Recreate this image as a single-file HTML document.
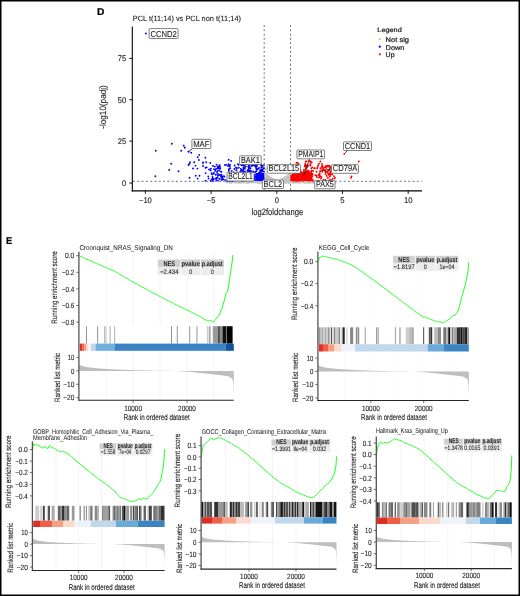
<!DOCTYPE html>
<html><head><meta charset="utf-8"><style>
html,body{margin:0;padding:0;background:#fff;}
body{width:520px;height:596px;overflow:hidden;}
svg{display:block;font-family:"Liberation Sans", sans-serif;will-change:transform;text-rendering:geometricPrecision;}
</style></head><body>
<svg width="520" height="596" viewBox="0 0 520 596" fill="#1a1a1a">
<rect x="0" y="0" width="520" height="596" fill="#fff"/>
<text x="97.00" y="15.00" font-size="10" stroke="#000" stroke-width="0.22" font-weight="bold" fill="#000" textLength="7.40" lengthAdjust="spacingAndGlyphs">D</text>
<text x="132.70" y="21.40" font-size="7.6" stroke="#1a1a1a" stroke-width="0.1" textLength="108.30" lengthAdjust="spacingAndGlyphs">PCL t(11;14) vs PCL non t(11;14)</text>
<g stroke="#333" stroke-width="0.7" stroke-dasharray="2 2.3">
<line x1="264.20" y1="25.00" x2="264.20" y2="191.00" stroke="#333" stroke-width="0.7"/>
<line x1="290.50" y1="25.00" x2="290.50" y2="191.00" stroke="#333" stroke-width="0.7"/>
<line x1="133.00" y1="181.30" x2="422.00" y2="181.30" stroke="#333" stroke-width="0.7"/>
</g>
<g>
<path d="M280.7 182.1h0M285.2 182.7h0M283.7 182.6h0M265.3 177.9h0M289.0 179.9h0M287.9 175.9h0M276.7 180.9h0M278.6 181.8h0M264.8 175.3h0M271.8 182.6h0M284.4 178.4h0M285.2 177.9h0M280.6 180.0h0M264.5 181.7h0M269.9 178.4h0M290.0 181.8h0M272.0 182.8h0M278.5 182.1h0M269.8 182.7h0M282.5 182.9h0M287.7 177.5h0M273.9 179.9h0M268.3 176.4h0M272.3 181.2h0M264.6 179.7h0M273.3 180.3h0M285.8 179.7h0M272.7 180.8h0M282.8 178.8h0M289.9 173.6h0M284.0 182.2h0M265.0 180.9h0M274.0 181.5h0M264.7 173.5h0M269.2 182.7h0M269.6 181.5h0M288.7 182.5h0M273.5 180.5h0M278.1 182.4h0M267.3 181.0h0M285.2 182.2h0M265.5 182.5h0M266.9 177.6h0M280.4 182.7h0M273.3 182.7h0M278.7 181.0h0M272.7 179.5h0M266.5 175.8h0M282.4 183.0h0M268.7 176.6h0M290.2 178.4h0M275.1 180.5h0M279.9 182.4h0M276.3 181.3h0M265.9 182.3h0M265.4 178.2h0M286.3 177.2h0M283.5 182.8h0M280.9 182.2h0M267.3 178.6h0M268.4 181.9h0M272.2 180.5h0M290.5 181.5h0M289.9 177.7h0M277.2 182.3h0M277.0 181.1h0M275.0 180.2h0M274.3 183.0h0M289.5 179.5h0M277.5 181.2h0M266.8 177.0h0M284.8 182.2h0M273.9 182.2h0M284.6 181.3h0M281.8 182.0h0M273.9 181.9h0M271.8 180.6h0M284.5 181.3h0M272.1 182.8h0M281.4 181.4h0M264.8 178.5h0M271.0 181.3h0M276.5 182.5h0M281.3 182.2h0M273.5 181.6h0M283.7 182.1h0M273.6 182.4h0M287.1 180.7h0M289.9 182.6h0M278.0 181.7h0M268.8 181.9h0M288.9 178.4h0M282.5 181.8h0M283.5 179.0h0M284.8 180.6h0M281.8 180.7h0M280.7 182.2h0M281.1 182.0h0M265.2 175.0h0M276.0 182.0h0M270.2 181.2h0M280.9 179.6h0M276.8 180.9h0M265.9 175.3h0M272.8 179.6h0M269.5 177.1h0M276.6 181.3h0M280.4 181.6h0M270.7 182.5h0M264.5 176.9h0M271.7 180.2h0M267.5 181.7h0M274.2 179.6h0M280.5 179.9h0M278.7 181.1h0M279.6 182.9h0M285.8 179.3h0M285.6 180.8h0M274.1 179.9h0M280.0 181.6h0M289.4 182.7h0M280.3 180.8h0M287.7 175.2h0M267.3 179.6h0M280.5 180.1h0M280.9 182.6h0M274.3 181.0h0M270.4 179.1h0M289.8 177.1h0M289.5 182.2h0M280.0 180.6h0M290.0 178.1h0M275.3 180.9h0M290.1 178.0h0M271.9 180.6h0M267.7 180.2h0M276.0 180.9h0M284.8 182.0h0M264.8 178.4h0M271.6 182.7h0M284.8 178.7h0M271.5 178.9h0M290.2 176.0h0M280.3 181.2h0M281.3 181.5h0M283.8 178.5h0M284.3 179.3h0M278.4 181.1h0M272.2 180.9h0M276.6 181.2h0M283.9 180.9h0M265.4 176.0h0M276.3 182.8h0M287.6 179.5h0M264.9 180.8h0M275.6 181.7h0M282.9 181.3h0M277.0 182.8h0M274.5 180.9h0M286.6 177.4h0M272.2 182.2h0M266.2 181.6h0M282.6 180.5h0M271.9 182.0h0M288.2 176.0h0M276.9 181.8h0M277.4 181.2h0M268.5 180.2h0M285.6 177.2h0M270.5 182.0h0M285.1 181.0h0M265.2 180.3h0M289.9 183.0h0M282.7 178.8h0M286.4 177.7h0M281.3 182.8h0M283.0 179.0h0M272.1 182.6h0M268.4 180.3h0M275.3 180.4h0M280.7 179.7h0M267.3 178.2h0M266.4 174.9h0M279.5 182.2h0M287.3 176.5h0M275.7 180.9h0M280.1 181.3h0M288.9 177.5h0M265.9 180.3h0M268.4 180.4h0M277.7 182.8h0M278.9 181.9h0M271.3 180.8h0M271.1 181.7h0M277.9 180.6h0M270.6 179.6h0M283.7 178.9h0M283.0 181.4h0M266.7 180.3h0M266.9 175.9h0M279.9 180.6h0M287.3 179.1h0M272.9 182.2h0M265.3 180.4h0M265.9 175.4h0M289.3 180.1h0M270.3 178.0h0M289.8 179.8h0M285.8 177.5h0M280.7 180.7h0M270.6 179.4h0M280.5 180.8h0M274.5 180.1h0M286.1 180.7h0M285.4 179.5h0M286.6 179.6h0M279.9 181.6h0M283.7 180.0h0M267.0 175.3h0M269.8 177.3h0M287.6 179.0h0M284.3 177.7h0M276.7 182.7h0M280.6 181.0h0M276.6 180.5h0M268.5 177.2h0M274.2 180.8h0M287.4 176.6h0M271.1 179.3h0M268.7 178.2h0M270.6 180.2h0M265.3 182.3h0M274.1 182.8h0M282.4 181.6h0M276.8 182.8h0M267.6 180.5h0M272.1 181.5h0M283.5 178.9h0M269.7 177.2h0M270.5 177.9h0M274.9 182.9h0M274.0 180.5h0M276.7 181.0h0M283.5 181.6h0M268.7 177.9h0M282.0 182.8h0M281.3 180.9h0M289.9 173.4h0M266.1 181.1h0M275.2 180.0h0M278.8 183.0h0M278.0 181.2h0M266.9 175.5h0M287.9 179.0h0M288.8 174.8h0M270.8 178.0h0M274.8 179.9h0M271.1 180.0h0M272.5 178.9h0M265.5 182.7h0M269.2 179.9h0M275.0 181.5h0M266.7 177.3h0M267.3 179.4h0M288.5 179.6h0M286.8 177.4h0M265.0 178.5h0M277.2 181.8h0M274.3 181.7h0M283.4 182.6h0M272.5 180.6h0M286.0 178.0h0M267.5 177.8h0M266.8 181.1h0M285.8 178.6h0M267.9 176.3h0M270.9 178.2h0M275.6 181.7h0M270.9 178.1h0M282.7 178.8h0M269.7 178.7h0M274.2 179.8h0M275.4 180.9h0M284.1 180.7h0M287.8 180.3h0M284.3 180.7h0M276.0 182.5h0M281.5 182.8h0M283.4 181.6h0M271.5 182.1h0M274.4 180.0h0M266.2 175.8h0M271.3 181.4h0M271.9 178.7h0M284.4 180.6h0M265.2 173.9h0M267.9 178.3h0M286.9 182.6h0M280.4 180.4h0M275.7 181.1h0M273.1 179.0h0M279.7 182.5h0M283.4 178.6h0M278.3 180.7h0M282.9 180.5h0M288.9 181.2h0M267.6 177.8h0M288.3 178.5h0M275.8 181.3h0M284.5 182.7h0M278.3 182.9h0M280.0 180.1h0M285.7 179.4h0M265.9 182.8h0M265.4 179.0h0M277.0 182.7h0M274.7 180.4h0M271.7 179.2h0M279.1 181.1h0M284.0 179.1h0M273.6 180.2h0M290.0 181.4h0M286.6 180.4h0M274.9 180.2h0M286.1 179.6h0M265.5 175.3h0M267.1 180.7h0M287.9 176.6h0M285.2 179.0h0M282.3 182.4h0M280.7 182.3h0M274.3 179.5h0M277.8 181.9h0M269.3 179.2h0M272.7 178.9h0M272.6 180.4h0M276.9 182.2h0M274.9 182.9h0M285.7 182.5h0M282.5 181.6h0M278.5 182.4h0M273.9 181.5h0M282.2 181.0h0M271.9 178.7h0M266.8 177.7h0M279.6 182.3h0M283.1 179.8h0M288.7 176.8h0M283.1 178.7h0M284.1 181.3h0M289.4 182.1h0M282.4 182.3h0M283.7 181.1h0M269.9 180.2h0M287.8 177.0h0M289.8 178.6h0M274.7 179.7h0M274.6 180.2h0M281.5 182.6h0M288.2 179.8h0M274.6 180.0h0M282.4 181.1h0M283.1 180.1h0M287.6 177.0h0M272.4 179.8h0M280.7 182.6h0M268.9 180.6h0M284.4 178.8h0M266.1 179.2h0M286.1 182.2h0M283.4 180.2h0M275.6 181.6h0M288.0 177.4h0M271.8 181.1h0M289.6 175.3h0M265.3 174.6h0M279.1 181.8h0M269.3 177.9h0M280.0 181.9h0M282.4 181.8h0M266.1 178.5h0M286.2 182.7h0M272.8 182.4h0M281.3 182.7h0M270.5 181.3h0M286.4 179.5h0M267.1 176.6h0M268.6 176.8h0M268.5 180.3h0M267.2 181.1h0M283.6 182.1h0M285.4 181.3h0M288.5 182.6h0M280.8 182.9h0M267.2 175.9h0M266.2 176.1h0M274.2 181.1h0M282.2 181.9h0M266.7 178.1h0M278.6 181.2h0M267.6 179.9h0M274.2 181.9h0M277.4 182.9h0M289.1 174.7h0M284.3 181.5h0M272.2 179.0h0M277.0 181.2h0M283.7 182.6h0M274.4 180.6h0M277.5 182.2h0M285.0 180.5h0M272.2 180.0h0M286.5 179.7h0M265.8 177.8h0M270.7 181.2h0M266.4 176.8h0M267.0 178.8h0M290.1 178.5h0M274.5 182.8h0M266.9 177.8h0M285.6 176.8h0M284.4 179.5h0M264.9 175.7h0M276.4 181.2h0M277.9 180.4h0M270.2 182.9h0M276.0 181.5h0M266.7 177.0h0M289.3 180.1h0M277.7 180.4h0M274.7 182.3h0M275.8 181.8h0M288.0 180.2h0M281.0 179.5h0M265.1 180.8h0M275.2 182.6h0M286.0 182.5h0M274.3 183.0h0M284.2 182.4h0M268.4 181.5h0M275.5 182.9h0M290.3 175.1h0M275.5 180.7h0M276.7 181.0h0M281.8 179.5h0M268.9 179.4h0M266.4 177.7h0M287.8 182.1h0M269.6 177.0h0M286.0 182.7h0M280.1 180.2h0M270.7 182.6h0M288.9 174.5h0M269.3 179.4h0M271.4 181.8h0M274.2 182.2h0M268.5 179.7h0M289.8 180.1h0M266.8 175.7h0M281.2 180.7h0M274.1 181.1h0M279.6 182.9h0M270.8 180.7h0M271.3 180.7h0M283.5 178.8h0M277.0 182.2h0M264.7 180.7h0M275.4 181.5h0M280.4 182.3h0M266.0 178.6h0M265.5 177.3h0M273.5 179.2h0M272.2 180.5h0M281.5 182.7h0M274.1 181.3h0M283.0 182.7h0M289.2 182.9h0M272.3 179.3h0M288.7 175.0h0M276.2 182.2h0M278.2 181.3h0M288.5 177.1h0M278.8 182.5h0M268.1 178.3h0M277.4 181.8h0M269.9 179.8h0M266.1 175.0h0M273.4 179.7h0M289.7 176.0h0M271.7 182.0h0M283.8 179.3h0M286.1 180.6h0M274.6 181.7h0M270.9 179.1h0M287.3 178.8h0M287.8 176.5h0M268.1 176.2h0M283.7 180.8h0M264.8 173.5h0M285.9 179.7h0M287.2 175.9h0M279.8 180.2h0M283.2 181.2h0M280.4 180.4h0M289.2 175.0h0M266.2 180.2h0M266.9 175.4h0M276.5 182.0h0M287.7 180.8h0M266.3 179.9h0M286.4 177.0h0M284.1 179.1h0M272.3 178.6h0M284.2 180.4h0M288.0 178.7h0M268.5 177.6h0M271.3 182.7h0M269.8 177.6h0M273.7 179.5h0M275.6 181.8h0M281.4 179.9h0M268.1 179.4h0M282.4 180.6h0M279.4 182.7h0M268.3 177.8h0M277.3 181.7h0M287.9 179.5h0M281.7 180.7h0M284.9 182.1h0M272.1 179.0h0M271.2 179.8h0M287.6 177.3h0M280.9 181.7h0M289.4 174.9h0M284.5 179.4h0M267.2 180.1h0M286.5 180.1h0M265.8 182.7h0M274.5 181.8h0M283.3 179.5h0M275.1 180.9h0M267.0 175.5h0M283.1 180.2h0M287.1 176.1h0M272.3 179.4h0M289.0 181.1h0M287.8 179.1h0M267.2 178.4h0M270.4 177.6h0M279.2 180.9h0M267.3 179.2h0M288.8 182.5h0M276.6 180.5h0M284.5 178.2h0M278.5 180.4h0M290.2 178.5h0M275.9 180.8h0M278.8 182.9h0M275.6 180.6h0M277.9 182.8h0M274.4 181.7h0M288.4 177.4h0M285.6 180.1h0M268.1 176.2h0M288.9 178.3h0M276.0 182.8h0M279.4 181.5h0M271.9 181.8h0M271.2 180.3h0M284.2 180.9h0M268.0 177.2h0M282.6 181.8h0M267.2 183.0h0M268.0 177.0h0M266.8 178.5h0M280.6 182.5h0M268.7 181.0h0M267.2 179.7h0M271.0 179.7h0M265.9 180.5h0M267.7 181.2h0M273.2 181.4h0M281.1 181.1h0M287.2 182.4h0M271.8 179.9h0M287.3 176.5h0M275.4 181.2h0M289.9 174.6h0M281.5 182.1h0M283.4 178.2h0M289.0 176.9h0M286.7 180.6h0M275.4 182.5h0M282.1 180.3h0M283.5 180.6h0M283.0 181.2h0M285.2 178.0h0M277.4 180.3h0M285.1 181.7h0M286.3 176.6h0M278.4 181.5h0M267.6 177.0h0M289.8 181.6h0M270.7 182.1h0M281.4 180.7h0M281.3 180.1h0M271.6 178.2h0M281.6 181.4h0M283.8 180.5h0M275.8 180.9h0M283.6 179.9h0M280.0 182.2h0M276.1 182.1h0M266.1 176.5h0M286.4 177.2h0M266.0 174.2h0M284.4 178.1h0M276.4 181.4h0M285.4 179.8h0M278.1 180.3h0M285.2 181.6h0M280.7 182.4h0M280.5 182.0h0M286.6 180.3h0M265.0 181.9h0M290.2 175.1h0M266.2 177.3h0M267.1 178.0h0M266.8 176.6h0M264.6 177.2h0M272.3 181.8h0M274.6 180.2h0M289.3 182.0h0M282.4 179.6h0M275.0 181.2h0M275.1 179.9h0M276.3 182.3h0M282.5 182.4h0M282.3 182.0h0M287.1 182.4h0M285.1 179.6h0M281.7 181.7h0M287.5 180.8h0M276.0 180.6h0M273.0 180.0h0M282.2 182.0h0M269.5 180.1h0M286.3 178.7h0M267.0 179.8h0M273.9 179.9h0M272.0 178.4h0M268.4 179.0h0M267.2 175.2h0M278.8 182.9h0M286.2 178.5h0M288.5 175.2h0M268.4 176.1h0M266.0 179.5h0M284.2 180.2h0M285.4 179.7h0M288.4 179.7h0M278.5 180.7h0M275.6 181.3h0M285.9 178.1h0M272.2 182.2h0M266.3 179.0h0M270.2 181.1h0M280.0 180.1h0M283.5 180.1h0M272.8 182.4h0M284.7 179.1h0M282.1 179.4h0M278.0 180.5h0M281.2 182.7h0M281.0 179.5h0M277.8 181.6h0M276.0 180.5h0M271.7 180.4h0M266.3 180.2h0M270.8 179.3h0M266.9 177.3h0M288.7 176.9h0M267.0 177.7h0M289.1 174.9h0M273.4 179.9h0M282.2 180.7h0M267.1 181.9h0M273.0 181.7h0M276.3 182.6h0M266.0 176.2h0M271.9 179.6h0M285.9 179.8h0M273.5 181.1h0M286.5 180.0h0M276.2 182.0h0M280.5 181.0h0M275.6 180.4h0M275.9 182.6h0M272.5 180.2h0M280.2 181.6h0M245.3 182.0h0M306.7 181.3h0M238.0 182.6h0M325.6 181.3h0M235.0 182.3h0M257.3 182.4h0M229.8 182.0h0M243.8 181.8h0M302.3 182.1h0M319.9 182.7h0M294.1 182.7h0M245.5 182.1h0M261.2 182.3h0M238.2 182.8h0M266.8 182.6h0M329.7 182.9h0M268.9 182.7h0M335.7 181.4h0M308.2 182.5h0M276.3 181.7h0M245.1 181.9h0M328.5 181.9h0M254.1 182.3h0M274.1 182.3h0M276.0 181.7h0M229.9 182.7h0M298.5 181.6h0M280.9 182.2h0M281.4 182.8h0M311.6 181.8h0M263.3 182.3h0M243.9 182.9h0M231.0 182.1h0M256.1 182.1h0M231.0 181.6h0M334.8 182.6h0M250.3 182.0h0M229.6 181.4h0M247.1 183.0h0M260.3 181.6h0M233.2 181.4h0M335.5 182.5h0M327.2 182.7h0M312.1 181.7h0M244.6 181.7h0M233.2 181.5h0M305.2 182.1h0M227.2 181.7h0M319.5 182.7h0M306.2 182.5h0M326.3 182.2h0M268.2 182.2h0M257.1 181.3h0M254.6 182.0h0M239.2 181.3h0M253.2 181.9h0M331.3 182.1h0M318.1 182.5h0M291.2 181.8h0M269.2 181.8h0M295.8 182.7h0M313.0 181.7h0M242.4 181.2h0M290.3 181.6h0M226.6 181.7h0M251.1 181.6h0M299.1 182.3h0M257.0 182.5h0M248.7 182.9h0M239.1 182.3h0M303.5 182.5h0M279.6 182.8h0M295.2 182.4h0M234.7 181.5h0M277.2 182.2h0M236.5 182.5h0M264.1 182.1h0M283.4 182.7h0M259.2 182.2h0M292.6 182.4h0M260.3 181.7h0M277.7 182.3h0M296.9 181.4h0M275.1 182.2h0M247.4 181.4h0M328.2 181.2h0M280.9 181.7h0M229.4 181.7h0M243.8 181.9h0M326.1 181.3h0M264.7 182.5h0M294.7 181.2h0M251.2 181.7h0M324.4 182.0h0M254.3 182.1h0M279.4 181.5h0M299.4 182.5h0M278.5 182.2h0M310.8 182.9h0M293.4 181.3h0M281.6 182.4h0M262.4 182.4h0M266.5 182.3h0M293.6 182.4h0M327.8 182.5h0M304.0 182.5h0M251.4 182.3h0M294.2 181.3h0M309.0 181.6h0M280.1 182.1h0M305.4 182.6h0M277.5 182.9h0M274.7 182.2h0M335.1 181.8h0M304.5 182.9h0M235.3 182.6h0M297.7 182.2h0M312.9 182.7h0M242.1 182.1h0M293.7 182.5h0M331.4 182.6h0M317.1 181.3h0M272.9 182.8h0M330.1 182.6h0M262.7 182.6h0M284.5 182.4h0M296.1 182.8h0M304.6 182.9h0M280.3 182.1h0M298.3 182.2h0M231.4 182.9h0M261.1 182.1h0M230.7 181.5h0M328.2 181.7h0M258.8 182.7h0M252.6 182.4h0M288.5 182.8h0M278.4 181.8h0M254.5 181.9h0M226.0 181.4h0M242.4 181.8h0M310.5 182.9h0M265.0 181.6h0M258.3 182.3h0M278.7 181.4h0M283.6 181.7h0M241.8 182.6h0M237.6 182.0h0M310.3 182.2h0M322.1 181.8h0M330.1 181.3h0M324.5 182.0h0M226.3 181.7h0M334.8 182.5h0M307.1 182.7h0M226.7 181.8h0M277.2 182.8h0M325.9 181.5h0M334.6 182.2h0M259.5 181.3h0M272.9 182.1h0M275.9 181.8h0M330.3 182.1h0M259.8 182.6h0M252.9 182.0h0M237.4 181.6h0M335.7 182.3h0M283.6 182.4h0M299.9 182.1h0M266.3 181.5h0M229.2 181.4h0M270.6 181.2h0M300.2 181.8h0M251.7 181.8h0M280.2 181.6h0M319.8 182.1h0M233.5 181.4h0M323.9 182.2h0M258.0 182.5h0M231.1 182.8h0M329.0 182.4h0M231.6 182.0h0M318.1 182.3h0M249.0 181.6h0M233.0 182.1h0M246.0 182.0h0M324.5 182.8h0M280.1 182.6h0M240.7 182.9h0M321.2 182.1h0M323.5 181.7h0M333.9 181.8h0M327.7 182.7h0M328.8 182.5h0M234.1 181.7h0M298.1 182.8h0M300.9 181.3h0M264.2 181.8h0M244.8 181.6h0M282.8 181.9h0M255.4 181.9h0M330.2 182.3h0M308.7 182.9h0M229.4 182.8h0M236.5 181.6h0M307.3 182.6h0M293.6 182.1h0M305.4 182.0h0M247.4 181.6h0M238.4 181.3h0M330.7 182.9h0M264.3 181.9h0M256.7 182.6h0M280.2 181.5h0M323.3 182.9h0M231.1 182.0h0M250.3 182.4h0M265.5 181.7h0M259.3 182.3h0M281.3 182.1h0M300.9 182.1h0M330.2 182.0h0M313.1 182.9h0M294.4 182.3h0M312.9 182.5h0M247.3 182.0h0M243.3 181.2h0M301.6 181.8h0M254.0 181.2h0M228.5 182.4h0M265.4 182.0h0M300.3 182.8h0M303.1 181.6h0M334.8 181.5h0M289.9 182.4h0M257.6 182.8h0M293.1 182.5h0M241.2 182.7h0M257.6 182.3h0M307.1 181.8h0M255.2 181.8h0M333.6 182.4h0M277.8 182.2h0M298.1 181.7h0M234.3 181.4h0M290.0 182.3h0M333.6 182.3h0M319.8 183.0h0M280.6 182.0h0M277.8 181.9h0M309.6 182.2h0M239.5 182.9h0M283.9 182.5h0M286.2 182.3h0M289.4 181.4h0M240.4 182.5h0M264.4 181.4h0M315.7 182.5h0M310.0 181.9h0M240.5 182.6h0M249.7 182.4h0M302.6 181.7h0M226.2 182.3h0M312.9 182.3h0M334.3 181.6h0M306.4 182.0h0M289.8 181.7h0M251.3 182.2h0M292.8 182.8h0M292.4 182.1h0M297.6 182.3h0M270.9 181.7h0M301.1 181.9h0M230.1 181.5h0M265.5 182.4h0M298.2 182.1h0M315.8 181.8h0M264.6 182.6h0M300.7 182.0h0M323.8 181.2h0M285.0 182.7h0M322.7 181.5h0M314.8 182.2h0M328.9 181.8h0M299.1 182.4h0M335.0 181.8h0M268.9 181.4h0M301.2 181.3h0M319.4 181.5h0M247.0 182.9h0M280.8 182.6h0M264.0 181.6h0M266.5 183.0h0M247.1 182.8h0M323.1 182.4h0M255.2 182.5h0M325.6 182.3h0M250.2 182.3h0M331.2 182.3h0M242.4 181.6h0M295.3 181.3h0M226.1 181.9h0M254.3 182.1h0M234.1 182.2h0M300.3 181.8h0M290.0 182.1h0M312.8 182.2h0M296.2 182.2h0M316.5 181.4h0M238.5 182.8h0M317.8 181.2h0M324.4 182.3h0M320.2 182.5h0M267.4 181.4h0M310.1 182.5h0M277.7 181.7h0M266.1 182.9h0M277.0 181.6h0M334.5 183.0h0M245.4 181.6h0M306.3 181.9h0M278.1 182.4h0M256.1 182.3h0M248.5 181.6h0M286.0 182.0h0M324.4 181.5h0M326.8 181.7h0M263.7 181.4h0M260.8 183.0h0M265.8 182.7h0M333.4 182.5h0M246.3 182.0h0M244.4 181.6h0M262.8 181.5h0M300.8 182.1h0M258.0 181.7h0M241.6 181.4h0M274.3 181.3h0M283.5 181.7h0M310.9 181.7h0M320.2 182.9h0M328.3 181.6h0M328.2 182.0h0M323.3 182.0h0M285.5 181.7h0M309.3 181.9h0M323.2 182.5h0M273.2 181.3h0M255.5 182.0h0M266.7 182.2h0" stroke="#c4c4c4" stroke-width="1.9" stroke-linecap="round" fill="none"/>
<path d="M264.5,174 L268,177.5 L272,179.5 L277.5,180.5 L283,179.5 L287,177.5 L290.5,174 L290.5,183 L264.5,183 Z" fill="#c4c4c4"/>
<path d="M240.1 173.5h0M261.4 165.8h0M256.5 170.0h0M254.5 165.0h0M259.0 173.6h0M251.9 166.0h0M253.2 171.4h0M247.4 170.4h0M251.7 165.9h0M264.0 165.1h0M262.8 180.3h0M241.7 175.6h0M259.8 172.1h0M246.2 179.4h0M246.0 179.0h0M243.4 169.1h0M244.6 178.3h0M254.9 178.9h0M260.0 170.6h0M261.1 169.4h0M257.5 176.7h0M250.1 174.9h0M249.4 166.4h0M250.5 168.2h0M255.1 179.7h0M245.1 171.8h0M258.9 177.3h0M246.0 175.0h0M251.0 174.3h0M262.2 171.3h0M246.7 175.5h0M252.2 178.4h0M249.4 180.0h0M255.8 167.1h0M261.6 171.4h0M249.2 172.0h0M253.3 178.2h0M253.0 173.0h0M244.7 173.9h0M260.1 170.7h0M247.9 177.2h0M255.1 172.2h0M247.2 173.5h0M249.8 171.0h0M261.1 175.0h0M252.9 172.0h0M256.0 177.1h0M245.9 166.2h0M243.5 170.1h0M246.2 173.1h0M250.8 177.2h0M244.2 165.7h0M240.9 178.7h0M257.7 175.1h0M244.7 168.6h0M263.6 177.7h0M257.0 174.7h0M263.9 171.5h0M261.5 170.4h0M243.2 173.9h0M256.9 178.6h0M242.1 165.1h0M262.2 170.6h0M241.5 169.8h0M263.7 168.5h0M257.2 174.0h0M255.2 166.2h0M252.0 179.8h0M243.5 165.8h0M257.0 166.0h0M243.6 179.3h0M256.4 174.1h0M251.1 177.3h0M258.3 168.5h0M257.4 174.1h0M251.8 174.7h0M251.2 175.8h0M251.3 165.6h0M259.2 178.8h0M256.1 167.9h0M248.3 166.8h0M262.6 179.9h0M255.0 174.9h0M251.2 172.2h0M260.6 170.9h0M261.3 177.0h0M259.1 174.7h0M244.4 168.2h0M253.9 177.4h0M261.4 173.1h0M256.2 165.2h0M247.8 172.3h0M253.1 176.4h0M252.8 165.5h0M256.7 176.8h0M256.4 171.2h0M248.8 170.3h0M249.0 168.5h0M249.3 167.8h0M247.1 178.3h0M247.9 179.0h0M261.0 165.1h0M250.0 177.2h0M261.2 167.4h0M245.9 176.1h0M251.9 178.9h0M245.1 174.6h0M242.9 178.7h0M254.5 176.2h0M262.0 165.6h0M256.1 176.6h0M258.2 175.6h0M260.9 174.2h0M256.6 169.0h0M256.9 169.0h0M248.2 178.6h0M248.8 165.7h0M240.9 176.5h0M247.4 174.0h0M260.9 178.2h0M242.5 180.7h0M248.2 169.4h0M250.9 170.7h0M252.3 175.2h0M249.8 180.3h0M262.8 169.3h0M242.3 177.8h0M258.8 172.9h0M258.0 169.0h0M243.5 167.8h0M221.6 179.9h0M236.9 168.2h0M224.5 176.5h0M236.6 177.9h0M228.5 164.2h0M219.6 165.3h0M240.8 164.1h0M222.9 179.2h0M228.3 179.6h0M241.9 173.2h0M239.6 174.7h0M230.0 165.0h0M219.5 178.9h0M240.0 172.9h0M237.9 164.1h0M237.6 172.5h0M237.0 174.0h0M222.1 177.5h0M241.9 174.1h0M216.9 171.9h0M243.8 172.2h0M229.8 175.3h0M233.7 172.4h0M229.7 166.3h0M240.8 168.9h0M236.3 170.3h0M221.5 174.7h0M223.5 179.2h0M242.6 178.8h0M238.8 167.8h0M227.3 180.9h0M221.0 171.8h0M235.9 177.0h0M232.8 179.7h0M234.4 169.0h0M237.9 173.4h0M232.1 181.0h0M223.5 176.2h0M218.0 180.6h0M242.8 171.0h0M231.7 170.9h0M240.3 172.0h0M228.0 176.4h0M243.2 165.1h0M220.3 168.2h0M234.0 177.2h0M235.4 178.2h0M236.9 173.5h0M232.4 180.7h0M241.3 165.0h0M237.3 177.9h0M236.2 180.2h0M231.3 177.2h0M229.2 178.0h0M218.0 175.7h0M222.6 179.5h0M225.3 180.1h0M216.6 164.6h0M217.5 166.5h0M227.8 180.1h0M228.0 174.4h0M217.6 173.8h0M216.2 177.9h0M235.9 167.6h0M221.0 176.2h0M242.5 177.6h0M219.3 178.6h0M240.2 177.2h0M234.6 165.5h0M233.4 179.2h0M229.5 177.5h0M229.4 172.4h0M243.3 170.9h0M230.2 168.3h0M230.2 179.3h0M234.8 178.3h0M221.9 176.5h0M229.6 180.9h0M226.1 164.9h0M230.3 176.8h0M228.8 170.7h0M230.1 176.2h0M232.3 178.2h0M235.1 175.9h0M235.8 177.1h0M233.9 179.3h0M229.6 174.7h0M216.4 180.1h0M228.9 169.3h0M238.7 167.6h0M238.6 164.8h0M221.5 179.8h0M219.9 168.7h0M221.3 177.6h0M219.9 166.1h0M208.6 178.6h0M215.1 170.9h0M205.7 173.1h0M214.0 173.6h0M213.8 169.1h0M219.0 167.8h0M210.6 180.7h0M213.0 180.9h0M215.8 174.8h0M217.7 168.4h0M217.5 171.1h0M210.7 170.4h0M215.9 178.8h0M219.8 175.0h0M214.0 179.1h0M219.1 174.9h0M217.6 168.2h0M213.8 173.0h0M212.9 178.5h0M218.6 166.6h0M205.6 180.8h0M213.0 180.4h0M212.5 177.0h0M209.1 169.5h0M214.9 166.6h0M208.3 176.4h0M215.5 169.6h0M212.3 179.2h0M211.6 173.3h0M221.4 171.8h0M219.4 168.4h0M212.3 174.4h0M219.2 170.5h0M211.8 179.2h0M217.4 177.8h0M199.5 175.7h0M206.7 167.4h0M210.9 168.6h0M203.2 162.4h0M197.4 168.6h0M211.8 174.0h0M197.6 178.6h0M195.5 165.6h0M155.8 150.8h0M171.8 143.8h0M183.8 145.7h0M184.8 147.7h0M181.2 150.8h0M188.6 151.8h0M191.2 152.8h0M171.1 163.8h0M169.2 170.0h0M178.5 171.2h0M155.4 176.3h0M189.5 177.7h0M195.8 175.8h0M199.2 154.9h0M197.7 157.2h0M198.9 160.0h0M205.4 157.7h0M206.2 162.3h0M210.3 163.0h0M203.0 163.0h0M190.0 162.3h0M189.5 163.8h0M188.5 165.0h0M194.2 162.3h0M193.0 168.5h0M203.0 166.0h0M205.4 167.7h0M145.9 33.5h0M188.4 151.6h0M228.7 159.8h0M231.2 160.9h0M228.0 166.0h0M213.0 166.0h0M216.0 169.0h0M220.0 168.0h0M225.0 165.0h0M245.0 168.0h0M249.0 166.0h0M259.0 168.0h0M262.0 167.0h0M241.0 171.0h0" stroke="#0000ff" stroke-width="1.9" stroke-linecap="round" fill="none"/>
<rect x="256.20" y="173.00" width="8.00" height="8.00" fill="#0000ff"/>
<rect x="247.00" y="176.00" width="10.00" height="5.00" fill="#0000ff" opacity="0.6"/>
<path d="M300.4 172.0h0M309.5 180.7h0M298.1 178.1h0M297.2 180.7h0M297.0 177.3h0M301.2 175.2h0M312.7 179.8h0M294.4 171.1h0M297.7 175.1h0M298.1 171.2h0M311.6 174.7h0M293.5 176.9h0M306.6 174.8h0M297.5 176.6h0M292.8 176.6h0M309.2 176.7h0M301.5 179.2h0M306.8 176.4h0M299.8 172.5h0M297.9 180.1h0M305.3 172.9h0M292.6 177.2h0M310.5 175.4h0M300.3 179.6h0M297.7 174.5h0M311.2 173.7h0M312.3 176.5h0M293.0 177.2h0M299.4 180.4h0M293.3 171.0h0M310.7 179.5h0M293.3 170.2h0M295.1 177.7h0M296.4 178.7h0M292.2 175.9h0M308.2 180.2h0M302.1 179.5h0M308.4 171.1h0M310.3 175.1h0M294.5 173.1h0M293.0 172.5h0M297.9 171.2h0M297.6 172.9h0M302.1 178.4h0M302.1 176.3h0M294.8 175.0h0M302.9 173.3h0M298.8 174.2h0M295.8 175.3h0M296.7 172.4h0M295.6 177.8h0M293.0 177.7h0M303.1 178.5h0M294.1 171.2h0M298.2 178.6h0M300.1 171.7h0M307.6 171.1h0M303.2 177.3h0M302.3 180.4h0M306.2 171.8h0M311.2 171.9h0M305.4 172.2h0M297.8 174.8h0M295.0 170.7h0M302.5 179.1h0M312.7 174.2h0M296.1 171.7h0M305.0 174.2h0M310.4 177.5h0M297.5 174.7h0M295.9 173.3h0M301.8 178.8h0M294.2 179.2h0M303.9 170.9h0M308.6 171.7h0M303.7 172.2h0M298.6 177.0h0M310.9 178.2h0M304.9 174.8h0M292.6 174.8h0M308.6 171.2h0M300.5 171.1h0M292.3 171.0h0M306.1 172.1h0M301.1 174.5h0M309.2 178.5h0M295.4 172.7h0M310.3 178.5h0M303.3 175.4h0M298.2 171.7h0M297.6 172.4h0M300.4 179.4h0M312.2 179.4h0M293.7 180.7h0M299.0 180.7h0M294.8 170.6h0M297.0 173.1h0M296.1 180.9h0M291.7 179.7h0M312.0 176.0h0M296.9 180.5h0M305.3 177.5h0M295.4 176.2h0M306.8 177.2h0M303.6 178.9h0M303.5 180.5h0M311.3 170.8h0M303.9 175.8h0M300.0 172.8h0M303.9 173.2h0M301.0 176.6h0M307.0 179.0h0M298.9 178.4h0M295.9 171.5h0M298.2 172.9h0M292.5 170.8h0M301.6 172.8h0M293.8 174.4h0M309.0 177.8h0M293.5 176.8h0M308.0 172.6h0M292.9 177.4h0M311.2 177.8h0M293.4 171.4h0M309.1 176.1h0M306.5 172.7h0M309.5 178.9h0M307.2 170.8h0M308.5 175.3h0M300.0 170.2h0M330.8 167.1h0M318.2 165.3h0M327.7 173.1h0M308.4 171.0h0M308.5 176.2h0M319.8 173.1h0M321.7 166.8h0M329.7 176.6h0M329.8 176.4h0M314.1 168.1h0M330.4 173.0h0M325.7 166.7h0M313.2 170.9h0M329.4 180.8h0M308.2 165.7h0M319.7 174.6h0M325.6 174.2h0M308.6 175.9h0M324.8 170.4h0M317.9 180.9h0M330.9 180.1h0M312.2 167.4h0M329.4 169.5h0M314.9 168.3h0M322.4 171.7h0M325.4 172.2h0M319.0 177.5h0M325.2 179.8h0M307.5 170.7h0M306.2 165.7h0M310.0 173.8h0M311.8 173.5h0M321.0 178.4h0M319.1 163.6h0M308.9 178.1h0M310.1 179.8h0M305.3 163.9h0M330.0 180.6h0M326.7 171.7h0M310.4 165.5h0M308.0 170.5h0M322.5 169.3h0M311.2 179.2h0M321.4 176.9h0M320.7 168.5h0M305.8 168.8h0M330.5 174.9h0M319.9 176.2h0M327.9 178.0h0M307.6 173.1h0M316.6 171.8h0M310.3 164.5h0M318.9 175.2h0M324.4 180.6h0M328.9 166.5h0M311.7 174.0h0M306.0 167.4h0M330.3 171.3h0M330.4 173.7h0M327.6 166.3h0M329.1 173.9h0M318.2 180.7h0M329.7 180.0h0M320.1 171.2h0M309.5 175.9h0M312.8 180.9h0M315.4 175.3h0M323.7 169.3h0M329.6 165.8h0M311.7 171.0h0M323.0 167.5h0M308.6 176.2h0M321.0 176.5h0M328.8 174.7h0M323.4 180.3h0M310.4 161.3h0M311.4 168.2h0M309.3 161.2h0M297.7 171.2h0M306.6 161.1h0M296.5 162.8h0M306.6 166.8h0M298.3 166.4h0M304.0 169.8h0M310.4 163.9h0M298.7 165.2h0M305.6 161.7h0M311.7 162.2h0M296.9 167.4h0M298.5 163.7h0M297.3 162.9h0M305.9 164.9h0M311.1 162.4h0M307.7 165.1h0M304.7 166.3h0M296.5 169.8h0M307.0 167.4h0M324.9 167.3h0M323.5 169.1h0M332.7 167.5h0M320.2 170.9h0M325.3 171.2h0M316.9 177.2h0M320.4 168.2h0M332.2 174.3h0M328.3 173.4h0M326.8 176.0h0M322.6 165.6h0M334.5 178.2h0M317.6 167.0h0M324.8 170.4h0M328.3 170.9h0M334.9 177.7h0M333.9 176.1h0M316.7 175.5h0M326.3 168.0h0M327.8 165.4h0M319.2 174.3h0M327.6 171.1h0M330.3 172.4h0M317.2 168.3h0M332.5 178.9h0M320.4 161.5h0M358.8 161.5h0M351.0 177.7h0M351.5 176.5h0M344.3 153.9h0M330.0 168.0h0M326.0 166.0h0M322.0 164.0h0M334.0 172.0h0M311.0 162.0h0M305.0 165.0h0" stroke="#ff0000" stroke-width="1.9" stroke-linecap="round" fill="none"/>
<rect x="290.60" y="174.50" width="18.50" height="6.60" fill="#ff0000"/>
<path d="M290.6,175.5 L296,173.5 L303,172 L310,171.5 L312,175 L312,181 L290.6,181Z" fill="#ff0000"/>
</g>
<line x1="132.30" y1="26.50" x2="132.30" y2="191.40" stroke="#000" stroke-width="1.1"/>
<line x1="131.80" y1="190.90" x2="422.00" y2="190.90" stroke="#000" stroke-width="1.1"/>
<line x1="129.30" y1="58.40" x2="132.30" y2="58.40" stroke="#000" stroke-width="0.9"/>
<text x="126.20" y="61.30" font-size="8.2" stroke="#1a1a1a" stroke-width="0.12" text-anchor="end" textLength="8.40" lengthAdjust="spacingAndGlyphs">75</text>
<line x1="129.30" y1="99.70" x2="132.30" y2="99.70" stroke="#000" stroke-width="0.9"/>
<text x="126.20" y="102.60" font-size="8.2" stroke="#1a1a1a" stroke-width="0.12" text-anchor="end" textLength="8.40" lengthAdjust="spacingAndGlyphs">50</text>
<line x1="129.30" y1="141.10" x2="132.30" y2="141.10" stroke="#000" stroke-width="0.9"/>
<text x="126.20" y="144.00" font-size="8.2" stroke="#1a1a1a" stroke-width="0.12" text-anchor="end" textLength="8.40" lengthAdjust="spacingAndGlyphs">25</text>
<line x1="129.30" y1="183.10" x2="132.30" y2="183.10" stroke="#000" stroke-width="0.9"/>
<text x="126.20" y="186.00" font-size="8.2" stroke="#1a1a1a" stroke-width="0.12" text-anchor="end" textLength="4.20" lengthAdjust="spacingAndGlyphs">0</text>
<line x1="145.40" y1="190.90" x2="145.40" y2="193.90" stroke="#000" stroke-width="0.9"/>
<text x="145.40" y="202.90" font-size="8.2" stroke="#1a1a1a" stroke-width="0.12" text-anchor="middle" textLength="12.90" lengthAdjust="spacingAndGlyphs">−10</text>
<line x1="211.10" y1="190.90" x2="211.10" y2="193.90" stroke="#000" stroke-width="0.9"/>
<text x="211.10" y="202.90" font-size="8.2" stroke="#1a1a1a" stroke-width="0.12" text-anchor="middle" textLength="8.60" lengthAdjust="spacingAndGlyphs">−5</text>
<line x1="276.80" y1="190.90" x2="276.80" y2="193.90" stroke="#000" stroke-width="0.9"/>
<text x="276.80" y="202.90" font-size="8.2" stroke="#1a1a1a" stroke-width="0.12" text-anchor="middle" textLength="4.20" lengthAdjust="spacingAndGlyphs">0</text>
<line x1="342.50" y1="190.90" x2="342.50" y2="193.90" stroke="#000" stroke-width="0.9"/>
<text x="342.50" y="202.90" font-size="8.2" stroke="#1a1a1a" stroke-width="0.12" text-anchor="middle" textLength="4.30" lengthAdjust="spacingAndGlyphs">5</text>
<line x1="408.20" y1="190.90" x2="408.20" y2="193.90" stroke="#000" stroke-width="0.9"/>
<text x="408.20" y="202.90" font-size="8.2" stroke="#1a1a1a" stroke-width="0.12" text-anchor="middle" textLength="8.60" lengthAdjust="spacingAndGlyphs">10</text>
<text x="277.40" y="214.70" font-size="9.3" stroke="#1a1a1a" stroke-width="0.12" text-anchor="middle" textLength="51.60" lengthAdjust="spacingAndGlyphs">log2foldchange</text>
<text x="106.00" y="107.00" font-size="9.3" stroke="#1a1a1a" stroke-width="0.12" text-anchor="middle" textLength="43.40" lengthAdjust="spacingAndGlyphs" transform="rotate(-90 106.00 107.00)">-log10(padj)</text>
<text x="377.30" y="31.90" font-size="6.5" stroke="#1a1a1a" stroke-width="0.22" textLength="24.50" lengthAdjust="spacingAndGlyphs">Legend</text>
<circle cx="379.8" cy="39.1" r="1.1" fill="#bebebe"/>
<text x="385.60" y="41.90" font-size="6.8" stroke="#1a1a1a" stroke-width="0.22" textLength="23.40" lengthAdjust="spacingAndGlyphs">Not sig</text>
<circle cx="379.8" cy="46.7" r="1.1" fill="#0000ff"/>
<text x="385.60" y="49.50" font-size="6.8" stroke="#1a1a1a" stroke-width="0.22" textLength="18.80" lengthAdjust="spacingAndGlyphs">Down</text>
<circle cx="379.8" cy="54.3" r="1.1" fill="#ff0000"/>
<text x="385.60" y="57.10" font-size="6.8" stroke="#1a1a1a" stroke-width="0.22" textLength="9.00" lengthAdjust="spacingAndGlyphs">Up</text>
<g stroke="#333" stroke-width="0.5">
<line x1="192.50" y1="148.50" x2="188.60" y2="151.80" stroke="#222" stroke-width="0.85"/>
<line x1="260.80" y1="163.50" x2="265.50" y2="169.50" stroke="#222" stroke-width="0.85"/>
<line x1="309.60" y1="158.50" x2="303.50" y2="176.00" stroke="#222" stroke-width="0.85"/>
<line x1="331.50" y1="169.00" x2="321.00" y2="170.80" stroke="#222" stroke-width="0.85"/>
<line x1="347.50" y1="150.60" x2="344.80" y2="153.30" stroke="#222" stroke-width="0.85"/>
<line x1="300.50" y1="170.00" x2="302.00" y2="172.00" stroke="#333" stroke-width="0.5"/>
</g>
<rect x="149.10" y="28.60" width="29.00" height="9.90" rx="0.8" fill="#fff" stroke="#555" stroke-width="0.75"/>
<text x="163.60" y="36.60" font-size="8.6" stroke="#222" stroke-width="0.1" text-anchor="middle" fill="#222" textLength="26.40" lengthAdjust="spacingAndGlyphs">CCND2</text>
<rect x="191.90" y="139.30" width="18.90" height="9.20" rx="0.8" fill="#fff" stroke="#555" stroke-width="0.75"/>
<text x="201.35" y="146.60" font-size="8.6" stroke="#222" stroke-width="0.1" text-anchor="middle" fill="#222" textLength="16.30" lengthAdjust="spacingAndGlyphs">MAF</text>
<rect x="239.60" y="155.80" width="21.60" height="8.70" rx="0.8" fill="#fff" stroke="#555" stroke-width="0.75"/>
<text x="250.40" y="162.60" font-size="8.6" stroke="#222" stroke-width="0.1" text-anchor="middle" fill="#222" textLength="19.00" lengthAdjust="spacingAndGlyphs">BAK1</text>
<rect x="227.00" y="172.30" width="27.00" height="8.70" rx="0.8" fill="#fff" stroke="#555" stroke-width="0.75"/>
<text x="240.50" y="179.10" font-size="8.6" stroke="#222" stroke-width="0.1" text-anchor="middle" fill="#222" textLength="24.40" lengthAdjust="spacingAndGlyphs">BCL2L1</text>
<rect x="267.20" y="164.60" width="33.30" height="8.60" rx="0.8" fill="#fff" stroke="#555" stroke-width="0.75"/>
<text x="283.85" y="171.30" font-size="8.6" stroke="#222" stroke-width="0.1" text-anchor="middle" fill="#222" textLength="30.70" lengthAdjust="spacingAndGlyphs">BCL2L15</text>
<rect x="262.30" y="180.10" width="21.20" height="8.50" rx="0.8" fill="#fff" stroke="#555" stroke-width="0.75"/>
<text x="272.90" y="186.70" font-size="8.6" stroke="#222" stroke-width="0.1" text-anchor="middle" fill="#222" textLength="18.60" lengthAdjust="spacingAndGlyphs">BCL2</text>
<rect x="296.90" y="150.00" width="27.70" height="8.80" rx="0.8" fill="#fff" stroke="#555" stroke-width="0.75"/>
<text x="310.75" y="156.90" font-size="8.6" stroke="#222" stroke-width="0.1" text-anchor="middle" fill="#222" textLength="25.10" lengthAdjust="spacingAndGlyphs">PMAIP1</text>
<rect x="314.60" y="180.40" width="20.40" height="8.40" rx="0.8" fill="#fff" stroke="#555" stroke-width="0.75"/>
<text x="324.80" y="186.90" font-size="8.6" stroke="#222" stroke-width="0.1" text-anchor="middle" fill="#222" textLength="17.80" lengthAdjust="spacingAndGlyphs">PAX5</text>
<rect x="343.50" y="141.90" width="28.00" height="8.60" rx="0.8" fill="#fff" stroke="#555" stroke-width="0.75"/>
<text x="357.50" y="148.60" font-size="8.6" stroke="#222" stroke-width="0.1" text-anchor="middle" fill="#222" textLength="25.40" lengthAdjust="spacingAndGlyphs">CCND1</text>
<rect x="331.50" y="164.70" width="27.00" height="8.60" rx="0.8" fill="#fff" stroke="#555" stroke-width="0.75"/>
<text x="345.00" y="171.40" font-size="8.6" stroke="#222" stroke-width="0.1" text-anchor="middle" fill="#222" textLength="24.40" lengthAdjust="spacingAndGlyphs">CD79A</text>
<text x="6.00" y="244.00" font-size="10" stroke="#000" stroke-width="0.22" font-weight="bold" fill="#000" textLength="6.20" lengthAdjust="spacingAndGlyphs">E</text>
<line x1="106.15" y1="251.80" x2="106.15" y2="325.70" stroke="#efefef" stroke-width="0.7"/>
<line x1="106.15" y1="351.30" x2="106.15" y2="400.30" stroke="#efefef" stroke-width="0.7"/>
<line x1="133.10" y1="251.80" x2="133.10" y2="325.70" stroke="#efefef" stroke-width="0.7"/>
<line x1="133.10" y1="351.30" x2="133.10" y2="400.30" stroke="#efefef" stroke-width="0.7"/>
<line x1="160.05" y1="251.80" x2="160.05" y2="325.70" stroke="#efefef" stroke-width="0.7"/>
<line x1="160.05" y1="351.30" x2="160.05" y2="400.30" stroke="#efefef" stroke-width="0.7"/>
<line x1="187.00" y1="251.80" x2="187.00" y2="325.70" stroke="#efefef" stroke-width="0.7"/>
<line x1="187.00" y1="351.30" x2="187.00" y2="400.30" stroke="#efefef" stroke-width="0.7"/>
<line x1="213.95" y1="251.80" x2="213.95" y2="325.70" stroke="#efefef" stroke-width="0.7"/>
<line x1="213.95" y1="351.30" x2="213.95" y2="400.30" stroke="#efefef" stroke-width="0.7"/>
<rect x="157.80" y="259.50" width="66.20" height="7.50" fill="#d0d0d0"/>
<rect x="157.80" y="267.00" width="66.20" height="8.10" fill="#ececec"/>
<line x1="180.80" y1="259.50" x2="180.80" y2="275.10" stroke="#fff" stroke-width="0.8"/>
<line x1="200.50" y1="259.50" x2="200.50" y2="275.10" stroke="#fff" stroke-width="0.8"/>
<text x="169.30" y="265.70" font-size="7.0" text-anchor="middle" font-weight="bold" textLength="11.58" lengthAdjust="spacingAndGlyphs">NES</text>
<text x="190.65" y="265.70" font-size="7.0" text-anchor="middle" font-weight="bold" textLength="18.54" lengthAdjust="spacingAndGlyphs">pvalue</text>
<text x="212.25" y="265.70" font-size="7.0" text-anchor="middle" font-weight="bold" textLength="20.85" lengthAdjust="spacingAndGlyphs">p.adjust</text>
<text x="169.30" y="273.50" font-size="6.4" stroke="#1a1a1a" stroke-width="0.06" text-anchor="middle" textLength="18.27" lengthAdjust="spacingAndGlyphs">−2.434</text>
<text x="190.65" y="273.50" font-size="6.4" stroke="#1a1a1a" stroke-width="0.06" text-anchor="middle" textLength="3.05" lengthAdjust="spacingAndGlyphs">0</text>
<text x="212.25" y="273.50" font-size="6.4" stroke="#1a1a1a" stroke-width="0.06" text-anchor="middle" textLength="3.05" lengthAdjust="spacingAndGlyphs">0</text>
<polyline points="79.30,255.52 79.75,256.09 80.38,256.34 81.14,256.46 82.00,257.00 82.56,257.26 83.21,257.69 83.91,258.12 84.62,258.13 85.30,258.44 85.90,259.14 86.40,259.17 87.04,259.47 88.00,259.35 88.42,259.75 88.91,260.11 89.45,260.11 90.05,260.74 90.68,261.01 91.35,260.89 92.05,261.21 92.77,261.80 93.51,262.34 94.25,262.40 95.00,262.66 95.56,263.01 96.13,263.07 96.72,263.44 97.32,263.82 97.94,264.12 98.57,264.27 99.20,264.56 99.85,264.84 100.50,265.25 101.15,265.46 101.80,265.61 102.46,266.31 103.11,266.46 103.76,266.79 104.40,266.84 105.00,267.50 105.59,267.68 106.17,267.55 106.75,267.89 107.33,268.32 107.91,268.54 108.50,268.89 109.09,268.87 109.68,269.31 110.29,269.48 110.90,269.56 111.53,269.98 112.17,270.41 112.83,270.70 113.50,270.85 114.20,271.24 114.74,271.25 115.30,271.64 115.87,272.23 116.44,272.35 117.03,272.56 117.62,273.08 118.22,273.50 118.83,273.83 119.44,274.04 120.06,274.43 120.69,274.83 121.31,275.33 121.95,275.58 122.58,275.88 123.21,276.30 123.85,276.45 124.48,276.82 125.11,277.52 125.75,278.03 126.37,278.19 127.00,278.45 127.59,278.67 128.19,279.17 128.78,279.75 129.37,279.97 129.96,280.19 130.55,280.68 131.14,280.70 131.74,281.18 132.33,281.73 132.93,281.88 133.53,282.15 134.13,282.40 134.73,282.87 135.34,283.42 135.95,283.29 136.57,284.02 137.19,284.38 137.82,284.77 138.46,285.05 139.10,285.43 139.74,285.65 140.40,286.03 140.98,286.28 141.57,286.42 142.16,287.16 142.76,287.34 143.36,287.48 143.96,287.97 144.57,288.29 145.18,288.56 145.80,288.90 146.41,289.33 147.04,289.72 147.66,290.05 148.29,290.32 148.92,290.45 149.55,290.90 150.19,291.22 150.83,291.77 151.47,292.25 152.11,292.57 152.76,292.91 153.40,293.27 154.05,293.34 154.70,293.98 155.35,294.24 156.00,294.29 156.58,294.57 157.17,294.88 157.76,295.56 158.36,295.62 158.95,295.87 159.55,296.44 160.15,296.62 160.76,296.79 161.36,297.16 161.97,297.66 162.58,297.80 163.19,298.17 163.80,298.71 164.41,298.90 165.03,299.15 165.64,299.54 166.26,299.63 166.87,300.13 167.49,300.47 168.10,300.66 168.72,300.94 169.33,301.65 169.95,301.77 170.56,301.93 171.17,302.43 171.78,302.85 172.39,302.76 173.00,303.06 173.61,303.43 174.23,304.02 174.86,304.05 175.49,304.63 176.13,304.93 176.77,305.17 177.41,305.32 178.06,306.01 178.71,306.23 179.36,306.40 180.01,306.57 180.65,307.09 181.30,307.27 181.94,307.66 182.57,307.84 183.20,308.29 183.83,308.30 184.45,308.72 185.05,309.34 185.65,309.58 186.24,309.58 186.82,310.13 187.39,310.13 187.94,310.71 188.48,310.87 189.00,310.97 189.51,311.13 190.00,311.25 190.83,312.10 191.62,312.08 192.38,312.85 193.11,313.29 193.81,313.45 194.48,313.60 195.13,314.28 195.75,314.66 196.35,314.83 196.92,315.04 197.48,315.27 198.02,315.54 198.53,315.75 199.04,316.26 199.53,316.40 200.00,316.55 200.87,317.00 201.62,317.75 202.29,318.01 202.88,318.51 203.42,318.80 203.94,319.41 204.46,319.73 205.00,319.56 205.75,319.95 206.48,320.25 207.19,320.76 207.85,320.79 208.46,320.66 209.00,320.66 209.80,320.79 210.37,320.63 211.00,320.62 211.59,320.63 212.22,321.41 212.86,321.74 213.50,321.69 214.11,321.48 214.72,320.30 215.34,319.60 216.00,318.39 216.57,317.87 217.16,317.74 217.78,316.85 218.39,316.45 219.00,315.45 219.62,314.31 220.27,312.53 220.91,310.85 221.50,309.21 222.00,308.08 222.84,305.25 223.50,303.03 224.28,300.45 225.00,297.62 225.50,295.43 226.00,293.20 226.72,292.49 227.50,291.29 228.25,287.80 229.00,282.84 229.75,277.89 230.50,272.52 231.29,267.50 232.00,262.74 232.49,258.11 232.80,255.00" fill="none" stroke="#00ff00" stroke-width="0.9" stroke-linejoin="round"/>
<rect x="86.00" y="326.20" width="0.90" height="17.40" fill="#888888"/>
<rect x="97.20" y="326.20" width="0.90" height="17.40" fill="#888888"/>
<rect x="104.00" y="326.20" width="0.80" height="17.40" fill="#aaaaaa"/>
<rect x="105.60" y="326.20" width="0.80" height="17.40" fill="#aaaaaa"/>
<rect x="109.70" y="326.20" width="0.80" height="17.40" fill="#999999"/>
<rect x="114.30" y="326.20" width="0.80" height="17.40" fill="#999999"/>
<rect x="171.10" y="326.20" width="0.90" height="17.40" fill="#888888"/>
<rect x="176.80" y="326.20" width="0.90" height="17.40" fill="#888888"/>
<rect x="189.30" y="326.20" width="0.90" height="17.40" fill="#888888"/>
<rect x="196.50" y="326.20" width="0.90" height="17.40" fill="#888888"/>
<rect x="206.90" y="326.20" width="1.40" height="17.40" fill="#cccccc"/>
<rect x="208.30" y="326.20" width="0.70" height="17.40" fill="#dddddd"/>
<rect x="209.00" y="326.20" width="1.70" height="17.40" fill="#aaaaaa"/>
<rect x="212.80" y="326.20" width="4.90" height="17.40" fill="#999999"/>
<rect x="217.70" y="326.20" width="2.40" height="17.40" fill="#555555"/>
<rect x="220.10" y="326.20" width="2.40" height="17.40" fill="#888888"/>
<rect x="222.50" y="326.20" width="3.50" height="17.40" fill="#111111"/>
<rect x="226.00" y="326.20" width="1.00" height="17.40" fill="#777777"/>
<rect x="227.00" y="326.20" width="5.60" height="17.40" fill="#000000"/>
<rect x="79.80" y="343.60" width="2.70" height="7.20" fill="#dc3027"/>
<rect x="82.50" y="343.60" width="2.00" height="7.20" fill="#ef5f47"/>
<rect x="84.50" y="343.60" width="2.00" height="7.20" fill="#f5a084"/>
<rect x="86.50" y="343.60" width="1.50" height="7.20" fill="#fcdacb"/>
<rect x="88.00" y="343.60" width="3.00" height="7.20" fill="#f4f6fc"/>
<rect x="91.00" y="343.60" width="4.50" height="7.20" fill="#c1d8ec"/>
<rect x="95.50" y="343.60" width="19.50" height="7.20" fill="#6fb0dd"/>
<rect x="115.00" y="343.60" width="110.80" height="7.20" fill="#3b84c4"/>
<rect x="225.80" y="343.60" width="8.00" height="7.20" fill="#0c55a0"/>
<path d="M79.30,370.90 L79.30,363.93 L79.69,364.33 L80.07,364.74 L80.46,365.14 L80.84,365.54 L81.23,365.64 L81.62,365.74 L82.00,365.84 L82.39,365.94 L82.78,366.04 L83.16,366.14 L83.55,366.24 L83.94,366.34 L84.32,366.44 L84.71,366.54 L85.09,366.65 L85.48,366.75 L85.87,366.85 L86.25,366.95 L86.64,367.05 L87.02,367.15 L87.41,367.19 L87.80,367.24 L88.18,367.29 L88.57,367.34 L88.96,367.38 L89.34,367.43 L89.73,367.48 L90.11,367.52 L90.50,367.57 L90.89,367.62 L91.27,367.66 L91.66,367.71 L92.05,367.76 L92.43,367.80 L92.82,367.85 L93.20,367.90 L93.59,367.95 L93.98,367.99 L94.36,368.04 L94.75,368.09 L95.14,368.11 L95.52,368.14 L95.91,368.17 L96.30,368.20 L96.68,368.23 L97.07,368.26 L97.45,368.29 L97.84,368.32 L98.23,368.34 L98.61,368.37 L99.00,368.40 L99.38,368.43 L99.77,368.46 L100.16,368.49 L100.54,368.52 L100.93,368.55 L101.32,368.57 L101.70,368.60 L102.09,368.63 L102.47,368.66 L102.86,368.69 L103.25,368.72 L103.63,368.75 L104.02,368.78 L104.41,368.80 L104.79,368.83 L105.18,368.86 L105.56,368.89 L105.95,368.91 L106.34,368.93 L106.72,368.95 L107.11,368.97 L107.50,368.99 L107.88,369.02 L108.27,369.04 L108.66,369.06 L109.04,369.08 L109.43,369.10 L109.81,369.12 L110.20,369.14 L110.59,369.16 L110.97,369.18 L111.36,369.20 L111.75,369.22 L112.13,369.25 L112.52,369.27 L112.90,369.29 L113.29,369.31 L113.68,369.33 L114.06,369.35 L114.45,369.37 L114.84,369.39 L115.22,369.41 L115.61,369.43 L115.99,369.46 L116.38,369.48 L116.77,369.50 L117.15,369.52 L117.54,369.54 L117.92,369.56 L118.31,369.58 L118.70,369.59 L119.08,369.61 L119.47,369.62 L119.86,369.64 L120.24,369.65 L120.63,369.67 L121.02,369.68 L121.40,369.70 L121.79,369.71 L122.17,369.73 L122.56,369.74 L122.95,369.76 L123.33,369.77 L123.72,369.79 L124.10,369.80 L124.49,369.82 L124.88,369.83 L125.26,369.85 L125.65,369.86 L126.04,369.88 L126.42,369.89 L126.81,369.91 L127.19,369.92 L127.58,369.94 L127.97,369.95 L128.35,369.97 L128.74,369.98 L129.13,370.00 L129.51,370.01 L129.90,370.03 L130.28,370.04 L130.67,370.06 L131.06,370.07 L131.44,370.09 L131.83,370.10 L132.22,370.12 L132.60,370.13 L132.99,370.15 L133.38,370.16 L133.76,370.17 L134.15,370.18 L134.53,370.19 L134.92,370.20 L135.31,370.21 L135.69,370.22 L136.08,370.23 L136.47,370.24 L136.85,370.25 L137.24,370.26 L137.62,370.27 L138.01,370.28 L138.40,370.29 L138.78,370.30 L139.17,370.31 L139.56,370.32 L139.94,370.33 L140.33,370.34 L140.71,370.35 L141.10,370.36 L141.49,370.37 L141.87,370.38 L142.26,370.39 L142.64,370.40 L143.03,370.41 L143.42,370.42 L143.80,370.43 L144.19,370.44 L144.58,370.45 L144.96,370.46 L145.35,370.47 L145.74,370.48 L146.12,370.49 L146.51,370.50 L146.89,370.51 L147.28,370.52 L147.67,370.53 L148.05,370.54 L148.44,370.55 L148.82,370.56 L149.21,370.57 L149.60,370.58 L149.98,370.59 L150.37,370.59 L150.76,370.60 L151.14,370.61 L151.53,370.61 L151.91,370.62 L152.30,370.63 L152.69,370.63 L153.07,370.64 L153.46,370.65 L153.85,370.65 L154.23,370.66 L154.62,370.67 L155.00,370.67 L155.39,370.68 L155.78,370.69 L156.16,370.69 L156.55,370.70 L156.94,370.71 L157.32,370.71 L157.71,370.72 L158.09,370.73 L158.48,370.73 L158.87,370.74 L159.25,370.75 L159.64,370.75 L160.03,370.76 L160.41,370.77 L160.80,370.77 L161.19,370.78 L161.57,370.79 L161.96,370.79 L162.34,370.80 L162.73,370.81 L163.12,370.81 L163.50,370.82 L163.89,370.83 L164.28,370.83 L164.66,370.84 L165.05,370.84 L165.43,370.84 L165.82,370.84 L166.21,370.84 L166.59,370.85 L166.98,370.85 L167.37,370.85 L167.75,370.85 L168.14,370.86 L168.52,370.86 L168.91,370.86 L169.30,370.86 L169.68,370.87 L170.07,370.87 L170.45,370.87 L170.84,370.87 L171.23,370.88 L171.61,370.88 L172.00,370.88 L172.39,370.88 L172.77,370.89 L173.16,370.89 L173.55,370.89 L173.93,370.89 L174.32,370.90 L174.70,370.90 L175.09,370.90 L175.48,370.93 L175.86,370.95 L176.25,370.98 L176.63,371.00 L177.02,371.03 L177.41,371.05 L177.79,371.08 L178.18,371.10 L178.57,371.13 L178.95,371.15 L179.34,371.18 L179.72,371.20 L180.11,371.23 L180.50,371.25 L180.88,371.28 L181.27,371.30 L181.66,371.33 L182.04,371.35 L182.43,371.38 L182.81,371.40 L183.20,371.43 L183.59,371.45 L183.97,371.48 L184.36,371.50 L184.75,371.53 L185.13,371.55 L185.52,371.58 L185.90,371.60 L186.29,371.63 L186.68,371.65 L187.06,371.68 L187.45,371.70 L187.84,371.74 L188.22,371.78 L188.61,371.81 L189.00,371.85 L189.38,371.89 L189.77,371.93 L190.15,371.96 L190.54,372.00 L190.93,372.04 L191.31,372.07 L191.70,372.11 L192.08,372.15 L192.47,372.18 L192.86,372.22 L193.24,372.26 L193.63,372.29 L194.02,372.33 L194.40,372.37 L194.79,372.40 L195.18,372.44 L195.56,372.48 L195.95,372.51 L196.33,372.55 L196.72,372.59 L197.11,372.63 L197.49,372.66 L197.88,372.70 L198.26,372.74 L198.65,372.77 L199.04,372.81 L199.42,372.85 L199.81,372.88 L200.20,372.92 L200.58,372.96 L200.97,372.99 L201.36,373.03 L201.74,373.07 L202.13,373.10 L202.51,373.14 L202.90,373.18 L203.29,373.22 L203.67,373.27 L204.06,373.31 L204.44,373.36 L204.83,373.40 L205.22,373.45 L205.60,373.49 L205.99,373.54 L206.38,373.58 L206.76,373.62 L207.15,373.67 L207.53,373.71 L207.92,373.76 L208.31,373.80 L208.69,373.85 L209.08,373.89 L209.47,373.94 L209.85,373.98 L210.24,374.03 L210.62,374.07 L211.01,374.12 L211.40,374.16 L211.78,374.21 L212.17,374.25 L212.56,374.29 L212.94,374.34 L213.33,374.38 L213.71,374.43 L214.10,374.47 L214.49,374.52 L214.87,374.56 L215.26,374.60 L215.65,374.65 L216.03,374.69 L216.42,374.73 L216.81,374.77 L217.19,374.82 L217.58,374.86 L217.96,374.90 L218.35,374.94 L218.74,374.99 L219.12,375.03 L219.51,375.07 L219.89,375.11 L220.28,375.16 L220.67,375.20 L221.05,375.24 L221.44,375.29 L221.83,375.33 L222.21,375.37 L222.60,375.41 L222.99,375.46 L223.37,375.51 L223.76,375.57 L224.14,375.63 L224.53,375.69 L224.92,375.74 L225.30,375.80 L225.69,375.86 L226.07,375.92 L226.46,375.97 L226.85,376.03 L227.23,376.09 L227.62,376.15 L228.01,376.20 L228.39,376.26 L228.78,376.50 L229.17,376.74 L229.55,376.98 L229.94,377.22 L230.32,377.47 L230.71,377.71 L231.10,377.95 L231.48,378.19 L231.87,378.43 L232.25,378.67 L232.64,380.20 L233.03,381.73 L233.41,385.42 L233.80,397.70 L233.80,370.90 Z" fill="#bebebe"/>
<line x1="78.90" y1="251.80" x2="78.90" y2="400.30" stroke="#555" stroke-width="1.3"/>
<line x1="78.20" y1="400.30" x2="233.80" y2="400.30" stroke="#262626" stroke-width="1.05"/>
<line x1="76.30" y1="255.70" x2="78.90" y2="255.70" stroke="#444" stroke-width="0.75"/>
<text x="74.30" y="258.40" font-size="7.6" stroke="#1a1a1a" stroke-width="0.1" text-anchor="end" textLength="9.20" lengthAdjust="spacingAndGlyphs">0.0</text>
<line x1="76.30" y1="272.30" x2="78.90" y2="272.30" stroke="#444" stroke-width="0.75"/>
<text x="74.30" y="275.00" font-size="7.6" stroke="#1a1a1a" stroke-width="0.1" text-anchor="end" textLength="12.50" lengthAdjust="spacingAndGlyphs">−0.2</text>
<line x1="76.30" y1="288.90" x2="78.90" y2="288.90" stroke="#444" stroke-width="0.75"/>
<text x="74.30" y="291.60" font-size="7.6" stroke="#1a1a1a" stroke-width="0.1" text-anchor="end" textLength="12.50" lengthAdjust="spacingAndGlyphs">−0.4</text>
<line x1="76.30" y1="305.50" x2="78.90" y2="305.50" stroke="#444" stroke-width="0.75"/>
<text x="74.30" y="308.20" font-size="7.6" stroke="#1a1a1a" stroke-width="0.1" text-anchor="end" textLength="12.50" lengthAdjust="spacingAndGlyphs">−0.6</text>
<line x1="76.30" y1="322.10" x2="78.90" y2="322.10" stroke="#444" stroke-width="0.75"/>
<text x="74.30" y="324.80" font-size="7.6" stroke="#1a1a1a" stroke-width="0.1" text-anchor="end" textLength="12.50" lengthAdjust="spacingAndGlyphs">−0.8</text>
<line x1="76.30" y1="357.50" x2="78.90" y2="357.50" stroke="#444" stroke-width="0.75"/>
<text x="74.30" y="360.20" font-size="7.6" stroke="#1a1a1a" stroke-width="0.1" text-anchor="end" textLength="6.60" lengthAdjust="spacingAndGlyphs">10</text>
<line x1="76.30" y1="370.90" x2="78.90" y2="370.90" stroke="#444" stroke-width="0.75"/>
<text x="74.30" y="373.60" font-size="7.6" stroke="#1a1a1a" stroke-width="0.1" text-anchor="end" textLength="3.40" lengthAdjust="spacingAndGlyphs">0</text>
<line x1="76.30" y1="384.30" x2="78.90" y2="384.30" stroke="#444" stroke-width="0.75"/>
<text x="74.30" y="387.00" font-size="7.6" stroke="#1a1a1a" stroke-width="0.1" text-anchor="end" textLength="11.10" lengthAdjust="spacingAndGlyphs">−10</text>
<line x1="76.30" y1="397.70" x2="78.90" y2="397.70" stroke="#444" stroke-width="0.75"/>
<text x="74.30" y="400.40" font-size="7.6" stroke="#1a1a1a" stroke-width="0.1" text-anchor="end" textLength="11.10" lengthAdjust="spacingAndGlyphs">−20</text>
<line x1="133.10" y1="400.30" x2="133.10" y2="402.90" stroke="#444" stroke-width="0.75"/>
<text x="133.10" y="410.80" font-size="7.6" stroke="#1a1a1a" stroke-width="0.1" text-anchor="middle" textLength="17.80" lengthAdjust="spacingAndGlyphs">10000</text>
<line x1="187.00" y1="400.30" x2="187.00" y2="402.90" stroke="#444" stroke-width="0.75"/>
<text x="187.00" y="410.80" font-size="7.6" stroke="#1a1a1a" stroke-width="0.1" text-anchor="middle" textLength="17.80" lengthAdjust="spacingAndGlyphs">20000</text>
<text x="156.70" y="419.90" font-size="8.2" stroke="#1a1a1a" stroke-width="0.12" text-anchor="middle" textLength="66.00" lengthAdjust="spacingAndGlyphs">Rank in ordered dataset</text>
<text x="57.30" y="287.50" font-size="7.8" stroke="#1a1a1a" stroke-width="0.12" text-anchor="middle" textLength="72.60" lengthAdjust="spacingAndGlyphs" transform="rotate(-90 57.30 287.50)">Running enrichment score</text>
<text x="59.50" y="377.50" font-size="7.8" stroke="#1a1a1a" stroke-width="0.12" text-anchor="middle" textLength="49.00" lengthAdjust="spacingAndGlyphs" transform="rotate(-90 59.50 377.50)">Ranked list metric</text>
<text x="79.40" y="249.50" font-size="7.0" stroke="#1a1a1a" stroke-width="0.03" textLength="93.50" lengthAdjust="spacingAndGlyphs">Croonquist_NRAS_Signaling_DN</text>
<line x1="344.50" y1="251.50" x2="344.50" y2="326.80" stroke="#f8f8f8" stroke-width="0.7"/>
<line x1="344.50" y1="352.00" x2="344.50" y2="400.50" stroke="#f8f8f8" stroke-width="0.7"/>
<line x1="370.90" y1="251.50" x2="370.90" y2="326.80" stroke="#f8f8f8" stroke-width="0.7"/>
<line x1="370.90" y1="352.00" x2="370.90" y2="400.50" stroke="#f8f8f8" stroke-width="0.7"/>
<line x1="397.30" y1="251.50" x2="397.30" y2="326.80" stroke="#f8f8f8" stroke-width="0.7"/>
<line x1="397.30" y1="352.00" x2="397.30" y2="400.50" stroke="#f8f8f8" stroke-width="0.7"/>
<line x1="423.70" y1="251.50" x2="423.70" y2="326.80" stroke="#f8f8f8" stroke-width="0.7"/>
<line x1="423.70" y1="352.00" x2="423.70" y2="400.50" stroke="#f8f8f8" stroke-width="0.7"/>
<line x1="450.10" y1="251.50" x2="450.10" y2="326.80" stroke="#f8f8f8" stroke-width="0.7"/>
<line x1="450.10" y1="352.00" x2="450.10" y2="400.50" stroke="#f8f8f8" stroke-width="0.7"/>
<rect x="393.00" y="255.80" width="65.50" height="7.20" fill="#d0d0d0"/>
<rect x="393.00" y="263.00" width="65.50" height="7.80" fill="#ececec"/>
<line x1="415.20" y1="255.80" x2="415.20" y2="270.80" stroke="#fff" stroke-width="0.8"/>
<line x1="435.40" y1="255.80" x2="435.40" y2="270.80" stroke="#fff" stroke-width="0.8"/>
<text x="404.10" y="261.70" font-size="7.0" text-anchor="middle" font-weight="bold" textLength="11.46" lengthAdjust="spacingAndGlyphs">NES</text>
<text x="425.30" y="261.70" font-size="7.0" text-anchor="middle" font-weight="bold" textLength="18.34" lengthAdjust="spacingAndGlyphs">pvalue</text>
<text x="446.95" y="261.70" font-size="7.0" text-anchor="middle" font-weight="bold" textLength="20.63" lengthAdjust="spacingAndGlyphs">p.adjust</text>
<text x="404.10" y="269.20" font-size="6.4" stroke="#1a1a1a" stroke-width="0.06" text-anchor="middle" textLength="21.00" lengthAdjust="spacingAndGlyphs">−1.8197</text>
<text x="425.30" y="269.20" font-size="6.4" stroke="#1a1a1a" stroke-width="0.06" text-anchor="middle" textLength="3.01" lengthAdjust="spacingAndGlyphs">0</text>
<text x="446.95" y="269.20" font-size="6.4" stroke="#1a1a1a" stroke-width="0.06" text-anchor="middle" textLength="15.06" lengthAdjust="spacingAndGlyphs">1e−04</text>
<polyline points="318.50,261.23 318.84,259.66 319.50,257.48 320.03,257.00 320.68,257.02 321.36,256.72 322.00,256.48 322.70,256.11 323.36,256.19 324.20,256.25 324.72,256.33 325.29,256.26 325.89,256.57 326.55,256.74 327.25,257.11 328.00,257.45 328.54,257.57 329.13,257.52 329.74,257.63 330.38,257.71 331.03,257.76 331.68,257.92 332.31,258.30 332.92,258.37 333.50,258.54 334.22,258.95 334.93,258.90 335.63,259.05 336.30,259.00 336.93,259.01 337.50,259.28 338.00,259.32 338.77,259.82 339.26,260.40 340.00,260.59 340.58,260.52 341.25,261.06 341.99,261.20 342.75,261.37 343.50,261.67 344.20,261.83 344.82,262.09 345.38,262.12 345.92,262.70 346.51,262.99 347.19,262.93 348.00,263.63 348.46,263.81 348.88,263.84 349.29,264.00 349.70,264.11 350.15,264.47 350.66,264.45 351.25,264.88 351.96,264.99 352.80,265.72 353.81,266.33 355.00,266.88 355.42,267.21 355.86,267.68 356.31,267.89 356.79,268.10 357.28,268.30 357.79,268.71 358.32,269.26 358.86,269.37 359.42,270.14 359.99,270.22 360.58,270.95 361.17,271.08 361.78,271.83 362.40,272.15 363.03,272.50 363.67,272.96 364.32,273.50 364.97,273.94 365.63,274.28 366.30,274.71 366.97,275.35 367.65,276.05 368.33,276.39 369.02,276.61 369.70,277.48 370.39,277.94 371.08,278.53 371.76,278.68 372.45,279.45 373.13,279.61 373.82,280.41 374.49,280.72 375.17,281.19 375.84,282.00 376.50,282.10 377.07,282.73 377.64,283.32 378.22,283.44 378.81,283.86 379.40,284.63 380.00,284.85 380.61,285.44 381.21,285.55 381.83,286.17 382.44,286.54 383.06,287.25 383.69,287.42 384.31,288.33 384.94,288.33 385.57,289.15 386.20,289.27 386.83,289.86 387.46,290.62 388.10,290.77 388.73,291.25 389.36,291.98 389.99,292.30 390.62,292.61 391.25,293.55 391.87,293.60 392.49,294.01 393.11,294.63 393.72,295.23 394.34,295.76 394.94,295.90 395.54,296.46 396.14,296.76 396.73,297.41 397.31,298.01 397.89,298.43 398.46,298.95 399.03,299.30 399.58,299.77 400.13,300.10 400.67,300.39 401.20,300.66 401.92,301.42 402.63,301.78 403.33,302.21 404.03,302.92 404.72,303.67 405.41,303.82 406.09,304.58 406.77,305.00 407.44,305.58 408.10,305.91 408.75,306.83 409.40,306.98 410.04,307.65 410.67,308.05 411.29,308.33 411.91,309.07 412.52,309.33 413.12,309.75 413.71,310.18 414.29,310.69 414.87,311.08 415.43,311.77 415.99,312.11 416.53,312.75 417.07,313.10 417.60,313.50 418.11,313.48 418.62,313.93 419.11,314.16 419.60,314.65 420.42,315.18 421.20,315.73 421.94,316.09 422.65,316.24 423.32,316.65 423.96,317.00 424.57,317.01 425.16,317.26 425.73,317.67 426.29,317.72 426.83,318.21 427.36,318.15 427.89,318.26 428.41,318.47 428.94,318.68 429.46,318.86 430.00,319.21 430.70,319.45 431.39,319.62 432.06,320.03 432.72,320.04 433.37,320.60 434.00,320.82 434.61,320.89 435.21,320.92 435.80,321.13 436.37,321.32 436.93,321.21 437.47,321.53 438.00,321.71 438.73,321.72 439.43,321.84 440.09,322.35 440.73,322.26 441.33,322.45 441.91,322.72 442.46,322.61 442.99,322.44 443.50,322.74 444.34,322.20 445.07,321.62 445.73,321.46 446.36,320.65 447.00,320.30 447.65,320.18 448.28,319.71 448.90,319.01 449.47,318.85 450.00,318.46 450.67,317.88 451.22,317.13 452.00,316.64 452.58,316.00 453.28,315.68 454.03,315.29 454.78,315.13 455.45,314.28 456.00,314.23 456.91,313.11 457.50,312.24 458.28,310.06 459.00,307.78 459.47,306.22 460.00,303.95 460.59,301.58 461.30,298.95 462.00,296.29 462.69,294.08 463.37,291.39 464.00,289.23 464.78,286.60 465.50,283.76 466.28,280.28 467.00,276.54 467.56,274.09 468.00,271.40 468.36,266.57 468.60,262.50" fill="none" stroke="#00ff00" stroke-width="0.9" stroke-linejoin="round"/>
<rect x="318.50" y="327.30" width="1.60" height="16.90" fill="#999999"/>
<rect x="320.10" y="327.30" width="1.50" height="16.90" fill="#bbbbbb"/>
<rect x="321.60" y="327.30" width="1.60" height="16.90" fill="#aaaaaa"/>
<rect x="323.20" y="327.30" width="1.50" height="16.90" fill="#cccccc"/>
<rect x="324.70" y="327.30" width="1.50" height="16.90" fill="#aaaaaa"/>
<rect x="326.20" y="327.30" width="1.60" height="16.90" fill="#cccccc"/>
<rect x="327.80" y="327.30" width="1.90" height="16.90" fill="#999999"/>
<rect x="330.80" y="327.30" width="1.20" height="16.90" fill="#555555"/>
<rect x="332.00" y="327.30" width="1.90" height="16.90" fill="#dddddd"/>
<rect x="333.90" y="327.30" width="1.60" height="16.90" fill="#888888"/>
<rect x="335.50" y="327.30" width="3.00" height="16.90" fill="#cccccc"/>
<rect x="338.50" y="327.30" width="1.60" height="16.90" fill="#888888"/>
<rect x="341.60" y="327.30" width="1.20" height="16.90" fill="#aaaaaa"/>
<rect x="342.80" y="327.30" width="1.90" height="16.90" fill="#222222"/>
<rect x="346.20" y="327.30" width="1.60" height="16.90" fill="#dddddd"/>
<rect x="350.10" y="327.30" width="3.10" height="16.90" fill="#888888"/>
<rect x="355.80" y="327.30" width="1.50" height="16.90" fill="#888888"/>
<rect x="357.70" y="327.30" width="1.50" height="16.90" fill="#888888"/>
<rect x="364.60" y="327.30" width="1.20" height="16.90" fill="#aaaaaa"/>
<rect x="376.20" y="327.30" width="1.10" height="16.90" fill="#888888"/>
<rect x="377.70" y="327.30" width="1.10" height="16.90" fill="#aaaaaa"/>
<rect x="394.90" y="327.30" width="1.20" height="16.90" fill="#aaaaaa"/>
<rect x="399.20" y="327.30" width="1.50" height="16.90" fill="#aaaaaa"/>
<rect x="405.70" y="327.30" width="3.10" height="16.90" fill="#cccccc"/>
<rect x="408.80" y="327.30" width="3.00" height="16.90" fill="#bbbbbb"/>
<rect x="411.80" y="327.30" width="2.00" height="16.90" fill="#aaaaaa"/>
<rect x="423.00" y="327.30" width="1.20" height="16.90" fill="#666666"/>
<rect x="428.80" y="327.30" width="1.70" height="16.90" fill="#555555"/>
<rect x="430.50" y="327.30" width="1.70" height="16.90" fill="#333333"/>
<rect x="434.10" y="327.30" width="3.80" height="16.90" fill="#bbbbbb"/>
<rect x="437.90" y="327.30" width="3.10" height="16.90" fill="#888888"/>
<rect x="443.30" y="327.30" width="2.70" height="16.90" fill="#777777"/>
<rect x="446.00" y="327.30" width="2.30" height="16.90" fill="#bbbbbb"/>
<rect x="448.30" y="327.30" width="1.90" height="16.90" fill="#111111"/>
<rect x="450.20" y="327.30" width="1.60" height="16.90" fill="#cccccc"/>
<rect x="451.80" y="327.30" width="1.50" height="16.90" fill="#888888"/>
<rect x="453.30" y="327.30" width="3.50" height="16.90" fill="#a8a8a8"/>
<rect x="456.80" y="327.30" width="3.80" height="16.90" fill="#333333"/>
<rect x="460.60" y="327.30" width="1.90" height="16.90" fill="#111111"/>
<rect x="462.50" y="327.30" width="2.30" height="16.90" fill="#444444"/>
<rect x="464.80" y="327.30" width="2.40" height="16.90" fill="#222222"/>
<rect x="467.20" y="327.30" width="1.70" height="16.90" fill="#999999"/>
<rect x="318.80" y="344.20" width="4.20" height="7.30" fill="#dc3027"/>
<rect x="323.00" y="344.20" width="5.00" height="7.30" fill="#ef5f47"/>
<rect x="328.00" y="344.20" width="6.00" height="7.30" fill="#f5a084"/>
<rect x="334.00" y="344.20" width="7.00" height="7.30" fill="#fcdacb"/>
<rect x="341.00" y="344.20" width="14.00" height="7.30" fill="#edf2fb"/>
<rect x="355.00" y="344.20" width="72.70" height="7.30" fill="#c1d8ec"/>
<rect x="427.70" y="344.20" width="16.30" height="7.30" fill="#6aaad9"/>
<rect x="444.00" y="344.20" width="24.80" height="7.30" fill="#3b84c4"/>
<path d="M318.30,371.40 L318.30,364.50 L318.68,364.90 L319.05,365.30 L319.43,365.69 L319.81,366.09 L320.18,366.19 L320.56,366.29 L320.93,366.39 L321.31,366.49 L321.69,366.59 L322.06,366.69 L322.44,366.79 L322.81,366.89 L323.19,366.99 L323.57,367.09 L323.94,367.19 L324.32,367.29 L324.70,367.39 L325.07,367.49 L325.45,367.58 L325.82,367.68 L326.20,367.73 L326.58,367.78 L326.95,367.82 L327.33,367.87 L327.71,367.92 L328.08,367.96 L328.46,368.01 L328.84,368.06 L329.21,368.10 L329.59,368.15 L329.96,368.20 L330.34,368.24 L330.72,368.29 L331.09,368.33 L331.47,368.38 L331.85,368.43 L332.22,368.47 L332.60,368.52 L332.97,368.57 L333.35,368.61 L333.73,368.64 L334.10,368.67 L334.48,368.70 L334.86,368.73 L335.23,368.76 L335.61,368.78 L335.98,368.81 L336.36,368.84 L336.74,368.87 L337.11,368.90 L337.49,368.93 L337.87,368.95 L338.24,368.98 L338.62,369.01 L338.99,369.04 L339.37,369.07 L339.75,369.10 L340.12,369.13 L340.50,369.15 L340.88,369.18 L341.25,369.21 L341.63,369.24 L342.00,369.27 L342.38,369.30 L342.76,369.32 L343.13,369.35 L343.51,369.38 L343.88,369.41 L344.26,369.43 L344.64,369.45 L345.01,369.47 L345.39,369.49 L345.77,369.51 L346.14,369.53 L346.52,369.55 L346.89,369.58 L347.27,369.60 L347.65,369.62 L348.02,369.64 L348.40,369.66 L348.78,369.68 L349.15,369.70 L349.53,369.72 L349.91,369.74 L350.28,369.76 L350.66,369.78 L351.03,369.80 L351.41,369.82 L351.79,369.84 L352.16,369.87 L352.54,369.89 L352.92,369.91 L353.29,369.93 L353.67,369.95 L354.04,369.97 L354.42,369.99 L354.80,370.01 L355.17,370.03 L355.55,370.05 L355.93,370.07 L356.30,370.09 L356.68,370.10 L357.05,370.12 L357.43,370.13 L357.81,370.15 L358.18,370.16 L358.56,370.18 L358.94,370.19 L359.31,370.21 L359.69,370.22 L360.06,370.24 L360.44,370.25 L360.82,370.27 L361.19,370.28 L361.57,370.30 L361.94,370.31 L362.32,370.33 L362.70,370.34 L363.07,370.36 L363.45,370.37 L363.83,370.39 L364.20,370.40 L364.58,370.42 L364.96,370.43 L365.33,370.45 L365.71,370.46 L366.08,370.48 L366.46,370.49 L366.84,370.51 L367.21,370.52 L367.59,370.54 L367.97,370.55 L368.34,370.57 L368.72,370.58 L369.09,370.60 L369.47,370.61 L369.85,370.63 L370.22,370.64 L370.60,370.66 L370.98,370.67 L371.35,370.68 L371.73,370.69 L372.10,370.70 L372.48,370.71 L372.86,370.72 L373.23,370.73 L373.61,370.74 L373.99,370.75 L374.36,370.76 L374.74,370.77 L375.11,370.78 L375.49,370.79 L375.87,370.80 L376.24,370.81 L376.62,370.82 L377.00,370.83 L377.37,370.84 L377.75,370.85 L378.12,370.86 L378.50,370.87 L378.88,370.88 L379.25,370.89 L379.63,370.90 L380.00,370.91 L380.38,370.92 L380.76,370.93 L381.13,370.94 L381.51,370.95 L381.89,370.96 L382.26,370.97 L382.64,370.98 L383.01,370.99 L383.39,371.00 L383.77,371.01 L384.14,371.02 L384.52,371.03 L384.90,371.04 L385.27,371.05 L385.65,371.06 L386.03,371.07 L386.40,371.07 L386.78,371.08 L387.15,371.09 L387.53,371.09 L387.91,371.10 L388.28,371.11 L388.66,371.11 L389.04,371.12 L389.41,371.13 L389.79,371.13 L390.16,371.14 L390.54,371.15 L390.92,371.15 L391.29,371.16 L391.67,371.17 L392.05,371.17 L392.42,371.18 L392.80,371.19 L393.17,371.19 L393.55,371.20 L393.93,371.21 L394.30,371.21 L394.68,371.22 L395.06,371.23 L395.43,371.23 L395.81,371.24 L396.18,371.25 L396.56,371.25 L396.94,371.26 L397.31,371.27 L397.69,371.27 L398.06,371.28 L398.44,371.29 L398.82,371.29 L399.19,371.30 L399.57,371.31 L399.95,371.31 L400.32,371.32 L400.70,371.33 L401.08,371.33 L401.45,371.34 L401.83,371.34 L402.20,371.34 L402.58,371.34 L402.96,371.35 L403.33,371.35 L403.71,371.35 L404.09,371.35 L404.46,371.35 L404.84,371.36 L405.21,371.36 L405.59,371.36 L405.97,371.36 L406.34,371.37 L406.72,371.37 L407.10,371.37 L407.47,371.37 L407.85,371.38 L408.22,371.38 L408.60,371.38 L408.98,371.38 L409.35,371.39 L409.73,371.39 L410.11,371.39 L410.48,371.39 L410.86,371.40 L411.23,371.40 L411.61,371.40 L411.99,371.42 L412.36,371.45 L412.74,371.47 L413.12,371.50 L413.49,371.52 L413.87,371.55 L414.24,371.57 L414.62,371.60 L415.00,371.62 L415.37,371.65 L415.75,371.67 L416.12,371.70 L416.50,371.72 L416.88,371.75 L417.25,371.77 L417.63,371.80 L418.01,371.82 L418.38,371.85 L418.76,371.87 L419.13,371.90 L419.51,371.92 L419.89,371.95 L420.26,371.97 L420.64,372.00 L421.02,372.02 L421.39,372.05 L421.77,372.07 L422.14,372.10 L422.52,372.12 L422.90,372.15 L423.27,372.17 L423.65,372.20 L424.03,372.23 L424.40,372.27 L424.78,372.31 L425.15,372.34 L425.53,372.38 L425.91,372.42 L426.28,372.45 L426.66,372.49 L427.04,372.52 L427.41,372.56 L427.79,372.60 L428.17,372.63 L428.54,372.67 L428.92,372.71 L429.29,372.74 L429.67,372.78 L430.05,372.82 L430.42,372.85 L430.80,372.89 L431.18,372.93 L431.55,372.96 L431.93,373.00 L432.30,373.04 L432.68,373.07 L433.06,373.11 L433.43,373.15 L433.81,373.18 L434.19,373.22 L434.56,373.25 L434.94,373.29 L435.31,373.33 L435.69,373.36 L436.07,373.40 L436.44,373.44 L436.82,373.47 L437.20,373.51 L437.57,373.55 L437.95,373.58 L438.32,373.62 L438.70,373.66 L439.08,373.70 L439.45,373.74 L439.83,373.79 L440.21,373.83 L440.58,373.88 L440.96,373.92 L441.33,373.97 L441.71,374.01 L442.09,374.05 L442.46,374.10 L442.84,374.14 L443.22,374.19 L443.59,374.23 L443.97,374.28 L444.34,374.32 L444.72,374.36 L445.10,374.41 L445.47,374.45 L445.85,374.50 L446.23,374.54 L446.60,374.58 L446.98,374.63 L447.35,374.67 L447.73,374.72 L448.11,374.76 L448.48,374.81 L448.86,374.85 L449.24,374.89 L449.61,374.94 L449.99,374.98 L450.36,375.03 L450.74,375.07 L451.12,375.11 L451.49,375.15 L451.87,375.19 L452.25,375.24 L452.62,375.28 L453.00,375.32 L453.37,375.36 L453.75,375.41 L454.13,375.45 L454.50,375.49 L454.88,375.53 L455.25,375.57 L455.63,375.62 L456.01,375.66 L456.38,375.70 L456.76,375.74 L457.14,375.79 L457.51,375.83 L457.89,375.87 L458.26,375.91 L458.64,375.97 L459.02,376.03 L459.39,376.08 L459.77,376.14 L460.15,376.20 L460.52,376.25 L460.90,376.31 L461.27,376.37 L461.65,376.42 L462.03,376.48 L462.40,376.54 L462.78,376.59 L463.16,376.65 L463.53,376.71 L463.91,376.95 L464.28,377.19 L464.66,377.42 L465.04,377.66 L465.41,377.90 L465.79,378.14 L466.17,378.38 L466.54,378.62 L466.92,378.86 L467.30,379.10 L467.67,380.61 L468.05,382.13 L468.42,385.78 L468.80,397.94 L468.80,371.40 Z" fill="#bebebe"/>
<line x1="317.90" y1="251.50" x2="317.90" y2="400.50" stroke="#555" stroke-width="1.3"/>
<line x1="317.20" y1="400.50" x2="468.80" y2="400.50" stroke="#262626" stroke-width="1.05"/>
<line x1="315.30" y1="261.60" x2="317.90" y2="261.60" stroke="#444" stroke-width="0.75"/>
<text x="313.30" y="264.30" font-size="7.6" stroke="#1a1a1a" stroke-width="0.1" text-anchor="end" textLength="9.20" lengthAdjust="spacingAndGlyphs">0.0</text>
<line x1="315.30" y1="283.70" x2="317.90" y2="283.70" stroke="#444" stroke-width="0.75"/>
<text x="313.30" y="286.40" font-size="7.6" stroke="#1a1a1a" stroke-width="0.1" text-anchor="end" textLength="12.50" lengthAdjust="spacingAndGlyphs">−0.2</text>
<line x1="315.30" y1="305.80" x2="317.90" y2="305.80" stroke="#444" stroke-width="0.75"/>
<text x="313.30" y="308.50" font-size="7.6" stroke="#1a1a1a" stroke-width="0.1" text-anchor="end" textLength="12.50" lengthAdjust="spacingAndGlyphs">−0.4</text>
<line x1="315.30" y1="358.13" x2="317.90" y2="358.13" stroke="#444" stroke-width="0.75"/>
<text x="313.30" y="360.83" font-size="7.6" stroke="#1a1a1a" stroke-width="0.1" text-anchor="end" textLength="6.60" lengthAdjust="spacingAndGlyphs">10</text>
<line x1="315.30" y1="371.40" x2="317.90" y2="371.40" stroke="#444" stroke-width="0.75"/>
<text x="313.30" y="374.10" font-size="7.6" stroke="#1a1a1a" stroke-width="0.1" text-anchor="end" textLength="3.40" lengthAdjust="spacingAndGlyphs">0</text>
<line x1="315.30" y1="384.67" x2="317.90" y2="384.67" stroke="#444" stroke-width="0.75"/>
<text x="313.30" y="387.37" font-size="7.6" stroke="#1a1a1a" stroke-width="0.1" text-anchor="end" textLength="11.10" lengthAdjust="spacingAndGlyphs">−10</text>
<line x1="315.30" y1="397.94" x2="317.90" y2="397.94" stroke="#444" stroke-width="0.75"/>
<text x="313.30" y="400.64" font-size="7.6" stroke="#1a1a1a" stroke-width="0.1" text-anchor="end" textLength="11.10" lengthAdjust="spacingAndGlyphs">−20</text>
<line x1="370.90" y1="400.50" x2="370.90" y2="403.10" stroke="#444" stroke-width="0.75"/>
<text x="370.90" y="411.10" font-size="7.6" stroke="#1a1a1a" stroke-width="0.1" text-anchor="middle" textLength="17.80" lengthAdjust="spacingAndGlyphs">10000</text>
<line x1="423.70" y1="400.50" x2="423.70" y2="403.10" stroke="#444" stroke-width="0.75"/>
<text x="423.70" y="411.10" font-size="7.6" stroke="#1a1a1a" stroke-width="0.1" text-anchor="middle" textLength="17.80" lengthAdjust="spacingAndGlyphs">20000</text>
<text x="394.00" y="420.10" font-size="8.2" stroke="#1a1a1a" stroke-width="0.12" text-anchor="middle" textLength="66.00" lengthAdjust="spacingAndGlyphs">Rank in ordered dataset</text>
<text x="296.70" y="283.75" font-size="7.8" stroke="#1a1a1a" stroke-width="0.12" text-anchor="middle" textLength="72.50" lengthAdjust="spacingAndGlyphs" transform="rotate(-90 296.70 283.75)">Running enrichment score</text>
<text x="297.90" y="377.50" font-size="7.8" stroke="#1a1a1a" stroke-width="0.12" text-anchor="middle" textLength="49.00" lengthAdjust="spacingAndGlyphs" transform="rotate(-90 297.90 377.50)">Ranked list metric</text>
<text x="318.80" y="250.30" font-size="7.0" stroke="#1a1a1a" stroke-width="0.03" textLength="50.40" lengthAdjust="spacingAndGlyphs">KEGG_Cell_Cycle</text>
<line x1="55.98" y1="441.30" x2="55.98" y2="505.30" stroke="#efefef" stroke-width="0.7"/>
<line x1="55.98" y1="527.50" x2="55.98" y2="570.40" stroke="#efefef" stroke-width="0.7"/>
<line x1="78.65" y1="441.30" x2="78.65" y2="505.30" stroke="#efefef" stroke-width="0.7"/>
<line x1="78.65" y1="527.50" x2="78.65" y2="570.40" stroke="#efefef" stroke-width="0.7"/>
<line x1="101.33" y1="441.30" x2="101.33" y2="505.30" stroke="#efefef" stroke-width="0.7"/>
<line x1="101.33" y1="527.50" x2="101.33" y2="570.40" stroke="#efefef" stroke-width="0.7"/>
<line x1="124.00" y1="441.30" x2="124.00" y2="505.30" stroke="#efefef" stroke-width="0.7"/>
<line x1="124.00" y1="527.50" x2="124.00" y2="570.40" stroke="#efefef" stroke-width="0.7"/>
<line x1="146.68" y1="441.30" x2="146.68" y2="505.30" stroke="#efefef" stroke-width="0.7"/>
<line x1="146.68" y1="527.50" x2="146.68" y2="570.40" stroke="#efefef" stroke-width="0.7"/>
<rect x="99.40" y="443.40" width="52.90" height="5.70" fill="#d0d0d0"/>
<rect x="99.40" y="449.10" width="52.90" height="6.40" fill="#ececec"/>
<line x1="116.70" y1="443.40" x2="116.70" y2="455.50" stroke="#fff" stroke-width="0.8"/>
<line x1="133.70" y1="443.40" x2="133.70" y2="455.50" stroke="#fff" stroke-width="0.8"/>
<text x="108.05" y="447.80" font-size="7.0" text-anchor="middle" font-weight="bold" textLength="9.26" lengthAdjust="spacingAndGlyphs">NES</text>
<text x="125.20" y="447.80" font-size="7.0" text-anchor="middle" font-weight="bold" textLength="14.81" lengthAdjust="spacingAndGlyphs">pvalue</text>
<text x="143.00" y="447.80" font-size="7.0" text-anchor="middle" font-weight="bold" textLength="16.66" lengthAdjust="spacingAndGlyphs">p.adjust</text>
<text x="108.05" y="453.90" font-size="6.4" stroke="#1a1a1a" stroke-width="0.06" text-anchor="middle" textLength="14.60" lengthAdjust="spacingAndGlyphs">−1.558</text>
<text x="125.20" y="453.90" font-size="6.4" stroke="#1a1a1a" stroke-width="0.06" text-anchor="middle" textLength="12.17" lengthAdjust="spacingAndGlyphs">7e−04</text>
<text x="143.00" y="453.90" font-size="6.4" stroke="#1a1a1a" stroke-width="0.06" text-anchor="middle" textLength="14.60" lengthAdjust="spacingAndGlyphs">0.0297</text>
<polyline points="32.80,449.37 32.97,446.77 33.40,444.03 33.91,444.00 34.59,444.57 35.40,444.78 35.96,444.83 36.59,445.25 37.26,444.98 37.97,445.05 38.70,445.65 39.36,445.75 40.10,446.46 40.85,446.88 41.58,447.52 42.25,447.71 42.80,448.17 43.82,447.48 44.50,446.31 45.18,446.79 45.90,447.49 46.54,447.69 47.24,448.54 47.90,448.55 48.70,447.02 49.50,445.57 50.11,446.23 50.77,446.76 51.50,447.51 52.09,447.77 52.72,447.76 53.41,447.99 54.20,448.05 54.81,448.66 55.49,449.03 56.21,449.89 56.94,450.47 57.65,450.62 58.30,451.02 59.01,451.29 59.67,451.74 60.31,451.46 60.95,451.53 61.60,451.40 62.26,451.58 62.92,451.58 63.59,451.65 64.28,451.91 65.00,452.14 65.58,452.53 66.14,452.65 66.71,453.05 67.34,453.39 68.09,453.96 69.00,454.49 69.47,454.61 69.95,455.36 70.44,455.85 70.95,456.28 71.48,456.60 72.04,457.19 72.63,457.48 73.26,458.37 73.93,458.86 74.64,459.36 75.41,459.92 76.22,461.03 77.10,461.84 77.59,461.80 78.10,462.59 78.63,462.84 79.18,463.18 79.76,463.73 80.35,464.46 80.96,465.02 81.59,465.12 82.22,465.94 82.87,466.19 83.52,467.06 84.19,467.42 84.85,468.24 85.52,468.84 86.20,469.15 86.87,469.95 87.54,470.15 88.20,470.57 88.86,471.37 89.52,471.61 90.16,472.21 90.79,472.82 91.41,473.41 92.01,473.67 92.60,474.07 93.26,475.00 93.91,475.23 94.57,476.05 95.22,476.52 95.88,476.75 96.53,477.28 97.17,477.79 97.81,478.32 98.45,478.77 99.08,479.22 99.71,479.70 100.32,480.32 100.94,480.55 101.54,480.95 102.13,481.53 102.72,481.72 103.30,482.17 103.86,482.93 104.41,483.11 104.95,483.53 105.48,483.66 106.00,484.26 106.74,484.90 107.45,485.17 108.15,486.00 108.82,486.52 109.47,486.74 110.11,487.51 110.72,487.91 111.32,488.49 111.90,488.78 112.46,489.41 113.00,489.87 113.53,489.96 114.03,490.41 114.53,491.15 115.00,491.73 115.82,492.20 116.53,493.13 117.17,494.01 117.75,494.66 118.30,495.43 118.84,496.08 119.40,496.72 120.00,497.35 120.62,497.60 121.25,497.92 121.88,498.32 122.50,498.09 123.12,498.48 123.75,498.67 124.38,498.61 125.00,498.76 125.64,499.31 126.30,499.32 126.96,499.61 127.62,500.05 128.27,500.49 128.89,500.47 129.47,500.82 130.00,501.02 130.73,501.47 131.34,501.38 131.90,501.64 132.43,501.28 133.00,501.32 133.60,501.38 134.20,501.35 134.80,500.94 135.40,500.61 136.00,500.31 136.62,500.20 137.25,499.65 137.87,499.57 138.46,499.26 139.00,498.74 139.74,498.89 140.37,499.50 141.00,499.57 141.67,499.35 142.33,498.63 143.00,498.21 143.63,498.38 144.26,498.90 145.00,498.79 145.55,498.82 146.18,498.84 146.82,498.77 147.45,498.62 148.00,498.61 148.74,497.44 149.37,496.32 150.00,495.82 150.67,495.04 151.33,494.42 152.00,493.47 152.67,493.04 153.33,492.33 154.00,491.16 154.67,490.40 155.33,489.31 156.00,488.08 156.67,486.91 157.33,485.69 158.00,484.62 158.69,483.53 159.37,482.44 160.00,481.54 160.81,479.41 161.50,477.26 162.03,473.64 162.50,470.70 163.02,468.03 163.50,465.31 163.89,461.05 164.20,456.60 164.44,452.34 164.60,449.30" fill="none" stroke="#00ff00" stroke-width="0.9" stroke-linejoin="round"/>
<rect x="35.30" y="505.80" width="3.90" height="14.90" fill="#cccccc"/>
<rect x="40.20" y="505.80" width="1.60" height="14.90" fill="#cccccc"/>
<rect x="42.80" y="505.80" width="2.00" height="14.90" fill="#444444"/>
<rect x="46.70" y="505.80" width="1.30" height="14.90" fill="#cccccc"/>
<rect x="48.00" y="505.80" width="2.00" height="14.90" fill="#555555"/>
<rect x="51.60" y="505.80" width="3.00" height="14.90" fill="#aaaaaa"/>
<rect x="57.80" y="505.80" width="3.00" height="14.90" fill="#666666"/>
<rect x="60.80" y="505.80" width="1.20" height="14.90" fill="#999999"/>
<rect x="62.00" y="505.80" width="2.00" height="14.90" fill="#333333"/>
<rect x="64.00" y="505.80" width="2.60" height="14.90" fill="#888888"/>
<rect x="66.60" y="505.80" width="2.60" height="14.90" fill="#666666"/>
<rect x="71.80" y="505.80" width="2.70" height="14.90" fill="#999999"/>
<rect x="79.40" y="505.80" width="1.60" height="14.90" fill="#999999"/>
<rect x="83.60" y="505.80" width="1.30" height="14.90" fill="#999999"/>
<rect x="85.90" y="505.80" width="1.00" height="14.90" fill="#888888"/>
<rect x="88.20" y="505.80" width="2.00" height="14.90" fill="#cccccc"/>
<rect x="90.20" y="505.80" width="2.30" height="14.90" fill="#777777"/>
<rect x="94.70" y="505.80" width="2.70" height="14.90" fill="#888888"/>
<rect x="97.40" y="505.80" width="1.50" height="14.90" fill="#aaaaaa"/>
<rect x="101.90" y="505.80" width="1.90" height="14.90" fill="#888888"/>
<rect x="103.80" y="505.80" width="4.60" height="14.90" fill="#a0a0a0"/>
<rect x="108.40" y="505.80" width="1.70" height="14.90" fill="#555555"/>
<rect x="112.00" y="505.80" width="1.30" height="14.90" fill="#cccccc"/>
<rect x="113.30" y="505.80" width="2.30" height="14.90" fill="#666666"/>
<rect x="115.60" y="505.80" width="1.70" height="14.90" fill="#999999"/>
<rect x="117.30" y="505.80" width="1.30" height="14.90" fill="#555555"/>
<rect x="118.60" y="505.80" width="1.30" height="14.90" fill="#999999"/>
<rect x="119.90" y="505.80" width="1.30" height="14.90" fill="#777777"/>
<rect x="122.20" y="505.80" width="1.60" height="14.90" fill="#333333"/>
<rect x="123.80" y="505.80" width="1.30" height="14.90" fill="#111111"/>
<rect x="125.10" y="505.80" width="1.60" height="14.90" fill="#888888"/>
<rect x="126.70" y="505.80" width="2.40" height="14.90" fill="#999999"/>
<rect x="130.20" y="505.80" width="1.80" height="14.90" fill="#888888"/>
<rect x="132.80" y="505.80" width="1.40" height="14.90" fill="#444444"/>
<rect x="134.20" y="505.80" width="0.70" height="14.90" fill="#999999"/>
<rect x="134.90" y="505.80" width="1.50" height="14.90" fill="#777777"/>
<rect x="136.40" y="505.80" width="1.50" height="14.90" fill="#444444"/>
<rect x="139.00" y="505.80" width="1.80" height="14.90" fill="#444444"/>
<rect x="140.80" y="505.80" width="1.10" height="14.90" fill="#aaaaaa"/>
<rect x="143.00" y="505.80" width="1.10" height="14.90" fill="#bbbbbb"/>
<rect x="144.10" y="505.80" width="1.80" height="14.90" fill="#555555"/>
<rect x="147.40" y="505.80" width="1.40" height="14.90" fill="#cccccc"/>
<rect x="148.80" y="505.80" width="3.00" height="14.90" fill="#444444"/>
<rect x="153.20" y="505.80" width="3.70" height="14.90" fill="#777777"/>
<rect x="156.90" y="505.80" width="1.80" height="14.90" fill="#999999"/>
<rect x="158.70" y="505.80" width="2.20" height="14.90" fill="#666666"/>
<rect x="160.90" y="505.80" width="3.60" height="14.90" fill="#333333"/>
<rect x="33.20" y="520.70" width="6.80" height="6.30" fill="#dc3027"/>
<rect x="40.00" y="520.70" width="12.00" height="6.30" fill="#ef5f47"/>
<rect x="52.00" y="520.70" width="11.00" height="6.30" fill="#f5a084"/>
<rect x="63.00" y="520.70" width="11.00" height="6.30" fill="#fcdacb"/>
<rect x="74.00" y="520.70" width="17.00" height="6.30" fill="#edf2fb"/>
<rect x="91.00" y="520.70" width="25.00" height="6.30" fill="#c1d8ec"/>
<rect x="116.00" y="520.70" width="21.50" height="6.30" fill="#6aaad9"/>
<rect x="137.50" y="520.70" width="27.10" height="6.30" fill="#3b84c4"/>
<path d="M32.80,544.10 L32.80,538.12 L33.13,538.47 L33.46,538.81 L33.79,539.15 L34.12,539.50 L34.45,539.59 L34.78,539.67 L35.11,539.76 L35.44,539.85 L35.77,539.93 L36.09,540.02 L36.42,540.10 L36.75,540.19 L37.08,540.28 L37.41,540.36 L37.74,540.45 L38.07,540.53 L38.40,540.62 L38.73,540.71 L39.06,540.79 L39.39,540.88 L39.72,540.92 L40.05,540.96 L40.38,541.00 L40.71,541.04 L41.04,541.08 L41.37,541.12 L41.70,541.16 L42.03,541.20 L42.36,541.24 L42.68,541.28 L43.01,541.32 L43.34,541.36 L43.67,541.40 L44.00,541.44 L44.33,541.48 L44.66,541.52 L44.99,541.56 L45.32,541.60 L45.65,541.64 L45.98,541.69 L46.31,541.71 L46.64,541.73 L46.97,541.76 L47.30,541.78 L47.63,541.81 L47.96,541.83 L48.29,541.86 L48.62,541.88 L48.95,541.91 L49.27,541.93 L49.60,541.96 L49.93,541.98 L50.26,542.01 L50.59,542.03 L50.92,542.05 L51.25,542.08 L51.58,542.10 L51.91,542.13 L52.24,542.15 L52.57,542.18 L52.90,542.20 L53.23,542.23 L53.56,542.25 L53.89,542.28 L54.22,542.30 L54.55,542.33 L54.88,542.35 L55.21,542.38 L55.54,542.39 L55.86,542.41 L56.19,542.43 L56.52,542.45 L56.85,542.46 L57.18,542.48 L57.51,542.50 L57.84,542.52 L58.17,542.54 L58.50,542.55 L58.83,542.57 L59.16,542.59 L59.49,542.61 L59.82,542.63 L60.15,542.64 L60.48,542.66 L60.81,542.68 L61.14,542.70 L61.47,542.72 L61.80,542.73 L62.13,542.75 L62.45,542.77 L62.78,542.79 L63.11,542.81 L63.44,542.82 L63.77,542.84 L64.10,542.86 L64.43,542.88 L64.76,542.90 L65.09,542.91 L65.42,542.93 L65.75,542.95 L66.08,542.96 L66.41,542.98 L66.74,542.99 L67.07,543.00 L67.40,543.01 L67.73,543.03 L68.06,543.04 L68.39,543.05 L68.72,543.07 L69.05,543.08 L69.37,543.09 L69.70,543.11 L70.03,543.12 L70.36,543.13 L70.69,543.14 L71.02,543.16 L71.35,543.17 L71.68,543.18 L72.01,543.20 L72.34,543.21 L72.67,543.22 L73.00,543.23 L73.33,543.25 L73.66,543.26 L73.99,543.27 L74.32,543.29 L74.65,543.30 L74.98,543.31 L75.31,543.33 L75.64,543.34 L75.96,543.35 L76.29,543.36 L76.62,543.38 L76.95,543.39 L77.28,543.40 L77.61,543.42 L77.94,543.43 L78.27,543.44 L78.60,543.45 L78.93,543.47 L79.26,543.48 L79.59,543.48 L79.92,543.49 L80.25,543.50 L80.58,543.51 L80.91,543.52 L81.24,543.53 L81.57,543.54 L81.90,543.55 L82.22,543.55 L82.55,543.56 L82.88,543.57 L83.21,543.58 L83.54,543.59 L83.87,543.60 L84.20,543.61 L84.53,543.61 L84.86,543.62 L85.19,543.63 L85.52,543.64 L85.85,543.65 L86.18,543.66 L86.51,543.67 L86.84,543.67 L87.17,543.68 L87.50,543.69 L87.83,543.70 L88.16,543.71 L88.49,543.72 L88.81,543.73 L89.14,543.73 L89.47,543.74 L89.80,543.75 L90.13,543.76 L90.46,543.77 L90.79,543.78 L91.12,543.79 L91.45,543.80 L91.78,543.80 L92.11,543.81 L92.44,543.82 L92.77,543.82 L93.10,543.83 L93.43,543.84 L93.76,543.84 L94.09,543.85 L94.42,543.85 L94.75,543.86 L95.08,543.86 L95.41,543.87 L95.73,543.88 L96.06,543.88 L96.39,543.89 L96.72,543.89 L97.05,543.90 L97.38,543.90 L97.71,543.91 L98.04,543.92 L98.37,543.92 L98.70,543.93 L99.03,543.93 L99.36,543.94 L99.69,543.94 L100.02,543.95 L100.35,543.96 L100.68,543.96 L101.01,543.97 L101.34,543.97 L101.67,543.98 L102.00,543.99 L102.32,543.99 L102.65,544.00 L102.98,544.00 L103.31,544.01 L103.64,544.01 L103.97,544.02 L104.30,544.03 L104.63,544.03 L104.96,544.04 L105.29,544.04 L105.62,544.04 L105.95,544.05 L106.28,544.05 L106.61,544.05 L106.94,544.05 L107.27,544.05 L107.60,544.06 L107.93,544.06 L108.26,544.06 L108.58,544.06 L108.91,544.07 L109.24,544.07 L109.57,544.07 L109.90,544.07 L110.23,544.07 L110.56,544.08 L110.89,544.08 L111.22,544.08 L111.55,544.08 L111.88,544.08 L112.21,544.09 L112.54,544.09 L112.87,544.09 L113.20,544.09 L113.53,544.09 L113.86,544.10 L114.19,544.10 L114.52,544.10 L114.85,544.12 L115.17,544.14 L115.50,544.16 L115.83,544.19 L116.16,544.21 L116.49,544.23 L116.82,544.25 L117.15,544.27 L117.48,544.29 L117.81,544.32 L118.14,544.34 L118.47,544.36 L118.80,544.38 L119.13,544.40 L119.46,544.42 L119.79,544.45 L120.12,544.47 L120.45,544.49 L120.78,544.51 L121.11,544.53 L121.44,544.55 L121.77,544.57 L122.09,544.60 L122.42,544.62 L122.75,544.64 L123.08,544.66 L123.41,544.68 L123.74,544.70 L124.07,544.73 L124.40,544.75 L124.73,544.77 L125.06,544.79 L125.39,544.82 L125.72,544.85 L126.05,544.88 L126.38,544.92 L126.71,544.95 L127.04,544.98 L127.37,545.01 L127.70,545.04 L128.03,545.07 L128.36,545.11 L128.68,545.14 L129.01,545.17 L129.34,545.20 L129.67,545.23 L130.00,545.26 L130.33,545.30 L130.66,545.33 L130.99,545.36 L131.32,545.39 L131.65,545.42 L131.98,545.45 L132.31,545.49 L132.64,545.52 L132.97,545.55 L133.30,545.58 L133.63,545.61 L133.96,545.64 L134.29,545.68 L134.62,545.71 L134.94,545.74 L135.27,545.77 L135.60,545.80 L135.93,545.83 L136.26,545.87 L136.59,545.90 L136.92,545.93 L137.25,545.96 L137.58,545.99 L137.91,546.02 L138.24,546.06 L138.57,546.09 L138.90,546.13 L139.23,546.17 L139.56,546.21 L139.89,546.25 L140.22,546.28 L140.55,546.32 L140.88,546.36 L141.21,546.40 L141.53,546.44 L141.86,546.48 L142.19,546.51 L142.52,546.55 L142.85,546.59 L143.18,546.63 L143.51,546.67 L143.84,546.71 L144.17,546.75 L144.50,546.78 L144.83,546.82 L145.16,546.86 L145.49,546.90 L145.82,546.94 L146.15,546.98 L146.48,547.01 L146.81,547.05 L147.14,547.09 L147.47,547.13 L147.80,547.17 L148.12,547.21 L148.45,547.24 L148.78,547.28 L149.11,547.31 L149.44,547.35 L149.77,547.39 L150.10,547.42 L150.43,547.46 L150.76,547.50 L151.09,547.53 L151.42,547.57 L151.75,547.61 L152.08,547.64 L152.41,547.68 L152.74,547.72 L153.07,547.75 L153.40,547.79 L153.73,547.83 L154.06,547.86 L154.39,547.90 L154.72,547.94 L155.04,547.97 L155.37,548.01 L155.70,548.06 L156.03,548.11 L156.36,548.16 L156.69,548.21 L157.02,548.26 L157.35,548.31 L157.68,548.36 L158.01,548.40 L158.34,548.45 L158.67,548.50 L159.00,548.55 L159.33,548.60 L159.66,548.65 L159.99,548.70 L160.32,548.91 L160.65,549.11 L160.98,549.32 L161.31,549.53 L161.63,549.74 L161.96,549.94 L162.29,550.15 L162.62,550.36 L162.95,550.56 L163.28,550.77 L163.61,552.08 L163.94,553.40 L164.27,556.56 L164.60,567.10 L164.60,544.10 Z" fill="#bebebe"/>
<line x1="32.40" y1="441.30" x2="32.40" y2="570.40" stroke="#555" stroke-width="1.3"/>
<line x1="31.70" y1="570.40" x2="164.60" y2="570.40" stroke="#262626" stroke-width="1.05"/>
<line x1="29.80" y1="449.50" x2="32.40" y2="449.50" stroke="#444" stroke-width="0.75"/>
<text x="27.80" y="452.20" font-size="7.6" stroke="#1a1a1a" stroke-width="0.1" text-anchor="end" textLength="9.20" lengthAdjust="spacingAndGlyphs">0.0</text>
<line x1="29.80" y1="461.10" x2="32.40" y2="461.10" stroke="#444" stroke-width="0.75"/>
<text x="27.80" y="463.80" font-size="7.6" stroke="#1a1a1a" stroke-width="0.1" text-anchor="end" textLength="12.50" lengthAdjust="spacingAndGlyphs">−0.1</text>
<line x1="29.80" y1="472.70" x2="32.40" y2="472.70" stroke="#444" stroke-width="0.75"/>
<text x="27.80" y="475.40" font-size="7.6" stroke="#1a1a1a" stroke-width="0.1" text-anchor="end" textLength="12.50" lengthAdjust="spacingAndGlyphs">−0.2</text>
<line x1="29.80" y1="484.30" x2="32.40" y2="484.30" stroke="#444" stroke-width="0.75"/>
<text x="27.80" y="487.00" font-size="7.6" stroke="#1a1a1a" stroke-width="0.1" text-anchor="end" textLength="12.50" lengthAdjust="spacingAndGlyphs">−0.3</text>
<line x1="29.80" y1="495.90" x2="32.40" y2="495.90" stroke="#444" stroke-width="0.75"/>
<text x="27.80" y="498.60" font-size="7.6" stroke="#1a1a1a" stroke-width="0.1" text-anchor="end" textLength="12.50" lengthAdjust="spacingAndGlyphs">−0.4</text>
<line x1="29.80" y1="532.60" x2="32.40" y2="532.60" stroke="#444" stroke-width="0.75"/>
<text x="27.80" y="535.30" font-size="7.6" stroke="#1a1a1a" stroke-width="0.1" text-anchor="end" textLength="6.60" lengthAdjust="spacingAndGlyphs">10</text>
<line x1="29.80" y1="544.10" x2="32.40" y2="544.10" stroke="#444" stroke-width="0.75"/>
<text x="27.80" y="546.80" font-size="7.6" stroke="#1a1a1a" stroke-width="0.1" text-anchor="end" textLength="3.40" lengthAdjust="spacingAndGlyphs">0</text>
<line x1="29.80" y1="555.60" x2="32.40" y2="555.60" stroke="#444" stroke-width="0.75"/>
<text x="27.80" y="558.30" font-size="7.6" stroke="#1a1a1a" stroke-width="0.1" text-anchor="end" textLength="11.10" lengthAdjust="spacingAndGlyphs">−10</text>
<line x1="29.80" y1="567.10" x2="32.40" y2="567.10" stroke="#444" stroke-width="0.75"/>
<text x="27.80" y="569.80" font-size="7.6" stroke="#1a1a1a" stroke-width="0.1" text-anchor="end" textLength="11.10" lengthAdjust="spacingAndGlyphs">−20</text>
<line x1="78.65" y1="570.40" x2="78.65" y2="573.00" stroke="#444" stroke-width="0.75"/>
<text x="78.65" y="580.20" font-size="7.6" stroke="#1a1a1a" stroke-width="0.1" text-anchor="middle" textLength="17.80" lengthAdjust="spacingAndGlyphs">10000</text>
<line x1="124.00" y1="570.40" x2="124.00" y2="573.00" stroke="#444" stroke-width="0.75"/>
<text x="124.00" y="580.20" font-size="7.6" stroke="#1a1a1a" stroke-width="0.1" text-anchor="middle" textLength="17.80" lengthAdjust="spacingAndGlyphs">20000</text>
<text x="101.70" y="589.70" font-size="8.2" stroke="#1a1a1a" stroke-width="0.12" text-anchor="middle" textLength="66.00" lengthAdjust="spacingAndGlyphs">Rank in ordered dataset</text>
<text x="11.50" y="471.80" font-size="7.8" stroke="#1a1a1a" stroke-width="0.12" text-anchor="middle" textLength="72.40" lengthAdjust="spacingAndGlyphs" transform="rotate(-90 11.50 471.80)">Running enrichment score</text>
<text x="13.30" y="547.70" font-size="7.8" stroke="#1a1a1a" stroke-width="0.12" text-anchor="middle" textLength="50.20" lengthAdjust="spacingAndGlyphs" transform="rotate(-90 13.30 547.70)">Ranked list metric</text>
<text x="33.00" y="433.50" font-size="7.0" stroke="#1a1a1a" stroke-width="0.03" textLength="120.00" lengthAdjust="spacingAndGlyphs">GOBP_Homophilic_Cell_Adhesion_Via_Plasma_</text>
<text x="33.00" y="439.60" font-size="7.0" stroke="#1a1a1a" stroke-width="0.03" textLength="54.30" lengthAdjust="spacingAndGlyphs">Membrane_Adhesion</text>
<line x1="225.50" y1="436.60" x2="225.50" y2="501.40" stroke="#efefef" stroke-width="0.7"/>
<line x1="225.50" y1="524.10" x2="225.50" y2="569.10" stroke="#efefef" stroke-width="0.7"/>
<line x1="249.00" y1="436.60" x2="249.00" y2="501.40" stroke="#efefef" stroke-width="0.7"/>
<line x1="249.00" y1="524.10" x2="249.00" y2="569.10" stroke="#efefef" stroke-width="0.7"/>
<line x1="272.50" y1="436.60" x2="272.50" y2="501.40" stroke="#efefef" stroke-width="0.7"/>
<line x1="272.50" y1="524.10" x2="272.50" y2="569.10" stroke="#efefef" stroke-width="0.7"/>
<line x1="296.00" y1="436.60" x2="296.00" y2="501.40" stroke="#efefef" stroke-width="0.7"/>
<line x1="296.00" y1="524.10" x2="296.00" y2="569.10" stroke="#efefef" stroke-width="0.7"/>
<line x1="319.50" y1="436.60" x2="319.50" y2="501.40" stroke="#efefef" stroke-width="0.7"/>
<line x1="319.50" y1="524.10" x2="319.50" y2="569.10" stroke="#efefef" stroke-width="0.7"/>
<rect x="271.50" y="439.40" width="58.70" height="6.20" fill="#d0d0d0"/>
<rect x="271.50" y="445.60" width="58.70" height="6.90" fill="#ececec"/>
<line x1="291.50" y1="439.40" x2="291.50" y2="452.50" stroke="#fff" stroke-width="0.8"/>
<line x1="308.80" y1="439.40" x2="308.80" y2="452.50" stroke="#fff" stroke-width="0.8"/>
<text x="281.50" y="444.30" font-size="7.0" text-anchor="middle" font-weight="bold" textLength="10.27" lengthAdjust="spacingAndGlyphs">NES</text>
<text x="300.15" y="444.30" font-size="7.0" text-anchor="middle" font-weight="bold" textLength="16.44" lengthAdjust="spacingAndGlyphs">pvalue</text>
<text x="319.50" y="444.30" font-size="7.0" text-anchor="middle" font-weight="bold" textLength="18.49" lengthAdjust="spacingAndGlyphs">p.adjust</text>
<text x="281.50" y="450.90" font-size="6.4" stroke="#1a1a1a" stroke-width="0.06" text-anchor="middle" textLength="18.80" lengthAdjust="spacingAndGlyphs">−1.3991</text>
<text x="300.15" y="450.90" font-size="6.4" stroke="#1a1a1a" stroke-width="0.06" text-anchor="middle" textLength="13.50" lengthAdjust="spacingAndGlyphs">8e−04</text>
<text x="319.50" y="450.90" font-size="6.4" stroke="#1a1a1a" stroke-width="0.06" text-anchor="middle" textLength="13.50" lengthAdjust="spacingAndGlyphs">0.032</text>
<polyline points="201.50,456.77 201.82,453.55 202.30,449.95 202.83,447.16 203.50,445.08 204.10,444.44 204.79,444.20 205.50,443.65 206.20,443.07 206.91,442.24 207.70,441.72 208.38,440.91 209.13,440.07 209.86,439.29 210.50,438.76 211.42,438.43 212.20,438.26 213.00,439.16 213.80,440.05 214.54,439.50 215.50,438.90 216.06,438.76 216.71,438.44 217.41,438.13 218.12,437.84 218.80,437.29 219.44,437.58 220.06,437.77 220.69,437.93 221.33,438.05 222.00,438.49 222.55,438.52 223.08,439.17 223.62,439.38 224.21,439.52 224.89,439.75 225.70,440.50 226.21,440.63 226.76,441.11 227.35,441.45 227.97,441.66 228.62,442.01 229.28,442.51 229.96,442.84 230.63,443.13 231.30,443.61 231.96,444.27 232.60,444.27 233.20,444.62 233.76,445.22 234.29,445.33 234.81,445.72 235.34,445.96 235.89,446.19 236.48,446.85 237.11,446.83 237.82,447.39 238.61,447.82 239.50,448.67 239.97,448.83 240.46,449.23 240.97,449.82 241.50,450.01 242.06,450.55 242.63,451.16 243.22,451.22 243.82,451.67 244.44,452.24 245.06,453.00 245.70,453.43 246.34,453.75 246.99,454.32 247.64,454.77 248.30,455.44 248.95,455.76 249.60,456.63 250.26,457.26 250.90,457.83 251.54,458.25 252.17,458.89 252.79,458.94 253.40,459.59 254.03,460.47 254.66,460.93 255.29,461.30 255.91,462.13 256.54,462.54 257.17,463.21 257.79,463.52 258.42,464.05 259.05,464.76 259.67,465.19 260.30,465.90 260.93,466.77 261.55,467.04 262.18,467.46 262.81,468.06 263.43,468.70 264.06,469.57 264.69,469.93 265.31,470.46 265.94,470.91 266.57,471.90 267.20,472.16 267.81,472.57 268.42,473.01 269.05,473.53 269.67,474.11 270.31,474.89 270.94,475.16 271.58,475.63 272.22,476.38 272.86,476.78 273.50,477.67 274.14,477.74 274.77,478.45 275.40,479.07 276.02,479.37 276.63,480.14 277.23,480.35 277.83,480.68 278.41,481.20 278.98,481.44 279.53,482.04 280.07,482.35 280.60,483.04 281.10,483.37 281.90,483.74 282.67,483.99 283.41,484.54 284.12,484.94 284.81,485.29 285.47,485.64 286.11,486.27 286.72,486.19 287.31,486.43 287.89,487.13 288.44,487.22 288.98,487.69 289.50,487.67 290.00,488.20 290.81,488.57 291.52,489.10 292.16,489.52 292.74,489.81 293.30,490.01 293.84,490.44 294.40,491.14 295.00,491.50 295.63,491.84 296.27,491.86 296.92,492.31 297.56,492.66 298.20,492.84 298.82,493.18 299.42,493.28 300.00,493.58 300.72,493.89 301.41,493.96 302.06,494.54 302.70,494.81 303.34,494.62 304.00,495.34 304.67,495.62 305.33,495.78 306.00,495.77 306.67,496.50 307.33,496.38 308.00,497.03 308.69,497.09 309.41,496.97 310.12,497.19 310.81,497.55 311.45,497.60 312.00,497.72 312.78,497.74 313.33,497.13 314.00,496.55 314.54,496.59 315.13,495.60 315.75,495.43 316.38,494.43 317.00,494.15 317.62,493.50 318.25,492.87 318.87,492.02 319.46,491.54 320.00,490.65 320.70,490.26 321.30,489.64 322.00,489.30 322.54,488.68 323.13,487.87 323.75,487.19 324.38,486.26 325.00,485.67 325.62,485.44 326.25,484.94 326.87,484.71 327.46,484.18 328.00,483.52 328.74,482.94 329.37,482.45 330.00,481.51 330.67,480.24 331.33,479.51 332.00,478.36 332.70,476.91 333.41,476.06 334.00,474.84 334.56,473.31 335.00,471.01 335.53,468.27 336.00,465.09 336.31,460.61 336.50,456.40" fill="none" stroke="#00ff00" stroke-width="0.9" stroke-linejoin="round"/>
<rect x="201.20" y="501.90" width="1.90" height="15.30" fill="#111111"/>
<rect x="203.10" y="501.90" width="1.70" height="15.30" fill="#999999"/>
<rect x="204.80" y="501.90" width="1.10" height="15.30" fill="#333333"/>
<rect x="205.90" y="501.90" width="1.00" height="15.30" fill="#aaaaaa"/>
<rect x="206.90" y="501.90" width="2.40" height="15.30" fill="#555555"/>
<rect x="209.30" y="501.90" width="2.80" height="15.30" fill="#555555"/>
<rect x="214.20" y="501.90" width="3.80" height="15.30" fill="#333333"/>
<rect x="218.00" y="501.90" width="5.50" height="15.30" fill="#999999"/>
<rect x="223.50" y="501.90" width="1.40" height="15.30" fill="#444444"/>
<rect x="224.90" y="501.90" width="2.80" height="15.30" fill="#bbbbbb"/>
<rect x="229.80" y="501.90" width="2.10" height="15.30" fill="#222222"/>
<rect x="231.90" y="501.90" width="1.00" height="15.30" fill="#888888"/>
<rect x="232.90" y="501.90" width="1.40" height="15.30" fill="#333333"/>
<rect x="234.30" y="501.90" width="1.40" height="15.30" fill="#777777"/>
<rect x="235.70" y="501.90" width="1.40" height="15.30" fill="#333333"/>
<rect x="237.10" y="501.90" width="1.10" height="15.30" fill="#666666"/>
<rect x="238.20" y="501.90" width="1.70" height="15.30" fill="#222222"/>
<rect x="239.90" y="501.90" width="4.10" height="15.30" fill="#bbbbbb"/>
<rect x="245.10" y="501.90" width="2.40" height="15.30" fill="#999999"/>
<rect x="247.50" y="501.90" width="1.40" height="15.30" fill="#333333"/>
<rect x="249.90" y="501.90" width="2.50" height="15.30" fill="#999999"/>
<rect x="254.10" y="501.90" width="0.70" height="15.30" fill="#bbbbbb"/>
<rect x="255.80" y="501.90" width="2.10" height="15.30" fill="#666666"/>
<rect x="259.30" y="501.90" width="1.00" height="15.30" fill="#cccccc"/>
<rect x="261.70" y="501.90" width="2.10" height="15.30" fill="#888888"/>
<rect x="265.50" y="501.90" width="1.00" height="15.30" fill="#bbbbbb"/>
<rect x="266.50" y="501.90" width="1.40" height="15.30" fill="#333333"/>
<rect x="268.00" y="501.90" width="1.00" height="15.30" fill="#dddddd"/>
<rect x="270.80" y="501.90" width="1.40" height="15.30" fill="#888888"/>
<rect x="272.20" y="501.90" width="1.70" height="15.30" fill="#444444"/>
<rect x="276.00" y="501.90" width="1.30" height="15.30" fill="#444444"/>
<rect x="277.30" y="501.90" width="2.10" height="15.30" fill="#999999"/>
<rect x="279.40" y="501.90" width="1.40" height="15.30" fill="#444444"/>
<rect x="280.80" y="501.90" width="2.10" height="15.30" fill="#111111"/>
<rect x="282.90" y="501.90" width="1.00" height="15.30" fill="#888888"/>
<rect x="283.90" y="501.90" width="1.10" height="15.30" fill="#333333"/>
<rect x="285.00" y="501.90" width="1.00" height="15.30" fill="#888888"/>
<rect x="286.00" y="501.90" width="2.10" height="15.30" fill="#555555"/>
<rect x="288.10" y="501.90" width="1.00" height="15.30" fill="#aaaaaa"/>
<rect x="289.10" y="501.90" width="1.40" height="15.30" fill="#333333"/>
<rect x="290.50" y="501.90" width="1.40" height="15.30" fill="#999999"/>
<rect x="291.90" y="501.90" width="1.70" height="15.30" fill="#222222"/>
<rect x="293.60" y="501.90" width="1.40" height="15.30" fill="#888888"/>
<rect x="295.00" y="501.90" width="1.40" height="15.30" fill="#333333"/>
<rect x="296.40" y="501.90" width="0.70" height="15.30" fill="#aaaaaa"/>
<rect x="297.10" y="501.90" width="1.40" height="15.30" fill="#111111"/>
<rect x="298.50" y="501.90" width="1.40" height="15.30" fill="#999999"/>
<rect x="299.90" y="501.90" width="2.40" height="15.30" fill="#aaaaaa"/>
<rect x="302.30" y="501.90" width="1.80" height="15.30" fill="#111111"/>
<rect x="304.10" y="501.90" width="1.40" height="15.30" fill="#cccccc"/>
<rect x="305.50" y="501.90" width="1.30" height="15.30" fill="#999999"/>
<rect x="306.80" y="501.90" width="2.10" height="15.30" fill="#aaaaaa"/>
<rect x="310.00" y="501.90" width="1.00" height="15.30" fill="#222222"/>
<rect x="311.00" y="501.90" width="2.10" height="15.30" fill="#888888"/>
<rect x="313.10" y="501.90" width="1.40" height="15.30" fill="#333333"/>
<rect x="314.50" y="501.90" width="1.00" height="15.30" fill="#aaaaaa"/>
<rect x="315.50" y="501.90" width="6.60" height="15.30" fill="#151515"/>
<rect x="322.10" y="501.90" width="2.10" height="15.30" fill="#888888"/>
<rect x="324.20" y="501.90" width="3.40" height="15.30" fill="#333333"/>
<rect x="327.60" y="501.90" width="1.80" height="15.30" fill="#888888"/>
<rect x="329.40" y="501.90" width="3.10" height="15.30" fill="#181818"/>
<rect x="332.50" y="501.90" width="1.40" height="15.30" fill="#999999"/>
<rect x="333.90" y="501.90" width="2.50" height="15.30" fill="#111111"/>
<rect x="201.80" y="517.20" width="10.20" height="6.40" fill="#dc3027"/>
<rect x="212.00" y="517.20" width="10.00" height="6.40" fill="#ef5f47"/>
<rect x="222.00" y="517.20" width="14.00" height="6.40" fill="#f5a084"/>
<rect x="236.00" y="517.20" width="15.00" height="6.40" fill="#fcdacb"/>
<rect x="251.00" y="517.20" width="24.00" height="6.40" fill="#edf2fb"/>
<rect x="275.00" y="517.20" width="29.00" height="6.40" fill="#c1d8ec"/>
<rect x="304.00" y="517.20" width="19.00" height="6.40" fill="#6aaad9"/>
<rect x="323.00" y="517.20" width="13.50" height="6.40" fill="#3b84c4"/>
<path d="M201.50,542.20 L201.50,536.13 L201.84,536.48 L202.18,536.83 L202.51,537.18 L202.85,537.53 L203.19,537.62 L203.53,537.71 L203.86,537.79 L204.20,537.88 L204.54,537.97 L204.88,538.06 L205.21,538.14 L205.55,538.23 L205.89,538.32 L206.22,538.41 L206.56,538.49 L206.90,538.58 L207.24,538.67 L207.57,538.76 L207.91,538.84 L208.25,538.93 L208.59,538.97 L208.93,539.01 L209.26,539.05 L209.60,539.10 L209.94,539.14 L210.28,539.18 L210.61,539.22 L210.95,539.26 L211.29,539.30 L211.62,539.34 L211.96,539.38 L212.30,539.42 L212.64,539.46 L212.97,539.50 L213.31,539.55 L213.65,539.59 L213.99,539.63 L214.32,539.67 L214.66,539.71 L215.00,539.75 L215.34,539.77 L215.68,539.80 L216.01,539.82 L216.35,539.85 L216.69,539.87 L217.03,539.90 L217.36,539.92 L217.70,539.95 L218.04,539.97 L218.38,540.00 L218.71,540.02 L219.05,540.05 L219.39,540.07 L219.72,540.10 L220.06,540.12 L220.40,540.15 L220.74,540.17 L221.07,540.20 L221.41,540.22 L221.75,540.25 L222.09,540.27 L222.43,540.30 L222.76,540.32 L223.10,540.35 L223.44,540.37 L223.78,540.40 L224.11,540.42 L224.45,540.45 L224.79,540.47 L225.12,540.49 L225.46,540.50 L225.80,540.52 L226.14,540.54 L226.47,540.56 L226.81,540.58 L227.15,540.60 L227.49,540.61 L227.82,540.63 L228.16,540.65 L228.50,540.67 L228.84,540.69 L229.18,540.70 L229.51,540.72 L229.85,540.74 L230.19,540.76 L230.53,540.78 L230.86,540.80 L231.20,540.81 L231.54,540.83 L231.88,540.85 L232.21,540.87 L232.55,540.89 L232.89,540.91 L233.22,540.92 L233.56,540.94 L233.90,540.96 L234.24,540.98 L234.57,541.00 L234.91,541.01 L235.25,541.03 L235.59,541.05 L235.93,541.06 L236.26,541.07 L236.60,541.09 L236.94,541.10 L237.28,541.11 L237.61,541.12 L237.95,541.14 L238.29,541.15 L238.62,541.16 L238.96,541.18 L239.30,541.19 L239.64,541.20 L239.97,541.22 L240.31,541.23 L240.65,541.24 L240.99,541.26 L241.32,541.27 L241.66,541.28 L242.00,541.30 L242.34,541.31 L242.68,541.32 L243.01,541.33 L243.35,541.35 L243.69,541.36 L244.03,541.37 L244.36,541.39 L244.70,541.40 L245.04,541.41 L245.38,541.43 L245.71,541.44 L246.05,541.45 L246.39,541.47 L246.72,541.48 L247.06,541.49 L247.40,541.51 L247.74,541.52 L248.07,541.53 L248.41,541.55 L248.75,541.56 L249.09,541.57 L249.43,541.58 L249.76,541.58 L250.10,541.59 L250.44,541.60 L250.78,541.61 L251.11,541.62 L251.45,541.63 L251.79,541.64 L252.12,541.65 L252.46,541.65 L252.80,541.66 L253.14,541.67 L253.47,541.68 L253.81,541.69 L254.15,541.70 L254.49,541.71 L254.82,541.72 L255.16,541.72 L255.50,541.73 L255.84,541.74 L256.18,541.75 L256.51,541.76 L256.85,541.77 L257.19,541.78 L257.52,541.79 L257.86,541.79 L258.20,541.80 L258.54,541.81 L258.88,541.82 L259.21,541.83 L259.55,541.84 L259.89,541.85 L260.23,541.86 L260.56,541.86 L260.90,541.87 L261.24,541.88 L261.57,541.89 L261.91,541.90 L262.25,541.91 L262.59,541.91 L262.93,541.92 L263.26,541.93 L263.60,541.93 L263.94,541.94 L264.27,541.94 L264.61,541.95 L264.95,541.95 L265.29,541.96 L265.62,541.97 L265.96,541.97 L266.30,541.98 L266.64,541.98 L266.98,541.99 L267.31,542.00 L267.65,542.00 L267.99,542.01 L268.32,542.01 L268.66,542.02 L269.00,542.02 L269.34,542.03 L269.68,542.04 L270.01,542.04 L270.35,542.05 L270.69,542.05 L271.02,542.06 L271.36,542.07 L271.70,542.07 L272.04,542.08 L272.38,542.08 L272.71,542.09 L273.05,542.09 L273.39,542.10 L273.73,542.11 L274.06,542.11 L274.40,542.12 L274.74,542.12 L275.07,542.13 L275.41,542.14 L275.75,542.14 L276.09,542.14 L276.43,542.15 L276.76,542.15 L277.10,542.15 L277.44,542.15 L277.77,542.15 L278.11,542.16 L278.45,542.16 L278.79,542.16 L279.12,542.16 L279.46,542.16 L279.80,542.17 L280.14,542.17 L280.48,542.17 L280.81,542.17 L281.15,542.17 L281.49,542.18 L281.82,542.18 L282.16,542.18 L282.50,542.18 L282.84,542.19 L283.18,542.19 L283.51,542.19 L283.85,542.19 L284.19,542.19 L284.52,542.20 L284.86,542.20 L285.20,542.20 L285.54,542.22 L285.88,542.24 L286.21,542.27 L286.55,542.29 L286.89,542.31 L287.23,542.33 L287.56,542.35 L287.90,542.38 L288.24,542.40 L288.57,542.42 L288.91,542.44 L289.25,542.46 L289.59,542.48 L289.93,542.51 L290.26,542.53 L290.60,542.55 L290.94,542.57 L291.27,542.59 L291.61,542.62 L291.95,542.64 L292.29,542.66 L292.62,542.68 L292.96,542.70 L293.30,542.73 L293.64,542.75 L293.98,542.77 L294.31,542.79 L294.65,542.81 L294.99,542.83 L295.32,542.86 L295.66,542.88 L296.00,542.90 L296.34,542.93 L296.68,542.96 L297.01,543.00 L297.35,543.03 L297.69,543.06 L298.02,543.09 L298.36,543.12 L298.70,543.16 L299.04,543.19 L299.38,543.22 L299.71,543.25 L300.05,543.29 L300.39,543.32 L300.73,543.35 L301.06,543.38 L301.40,543.41 L301.74,543.45 L302.07,543.48 L302.41,543.51 L302.75,543.54 L303.09,543.57 L303.43,543.61 L303.76,543.64 L304.10,543.67 L304.44,543.70 L304.77,543.73 L305.11,543.77 L305.45,543.80 L305.79,543.83 L306.12,543.86 L306.46,543.90 L306.80,543.93 L307.14,543.96 L307.48,543.99 L307.81,544.02 L308.15,544.06 L308.49,544.09 L308.82,544.12 L309.16,544.15 L309.50,544.18 L309.84,544.22 L310.18,544.26 L310.51,544.30 L310.85,544.34 L311.19,544.38 L311.52,544.42 L311.86,544.46 L312.20,544.50 L312.54,544.53 L312.88,544.57 L313.21,544.61 L313.55,544.65 L313.89,544.69 L314.23,544.73 L314.56,544.77 L314.90,544.81 L315.24,544.85 L315.57,544.88 L315.91,544.92 L316.25,544.96 L316.59,545.00 L316.93,545.04 L317.26,545.08 L317.60,545.12 L317.94,545.16 L318.27,545.20 L318.61,545.23 L318.95,545.27 L319.29,545.31 L319.62,545.35 L319.96,545.39 L320.30,545.43 L320.64,545.46 L320.98,545.50 L321.31,545.54 L321.65,545.57 L321.99,545.61 L322.32,545.65 L322.66,545.69 L323.00,545.72 L323.34,545.76 L323.68,545.80 L324.01,545.83 L324.35,545.87 L324.69,545.91 L325.02,545.95 L325.36,545.98 L325.70,546.02 L326.04,546.06 L326.38,546.09 L326.71,546.13 L327.05,546.17 L327.39,546.22 L327.73,546.27 L328.06,546.32 L328.40,546.37 L328.74,546.42 L329.07,546.47 L329.41,546.52 L329.75,546.57 L330.09,546.62 L330.42,546.67 L330.76,546.72 L331.10,546.77 L331.44,546.82 L331.77,546.87 L332.11,547.08 L332.45,547.29 L332.79,547.50 L333.12,547.71 L333.46,547.92 L333.80,548.13 L334.14,548.34 L334.48,548.55 L334.81,548.76 L335.15,548.97 L335.49,550.30 L335.82,551.64 L336.16,554.84 L336.50,565.54 L336.50,542.20 Z" fill="#bebebe"/>
<line x1="201.10" y1="436.60" x2="201.10" y2="569.10" stroke="#555" stroke-width="1.3"/>
<line x1="200.40" y1="569.10" x2="336.50" y2="569.10" stroke="#262626" stroke-width="1.05"/>
<line x1="198.50" y1="445.60" x2="201.10" y2="445.60" stroke="#444" stroke-width="0.75"/>
<text x="196.50" y="448.30" font-size="7.6" stroke="#1a1a1a" stroke-width="0.1" text-anchor="end" textLength="9.00" lengthAdjust="spacingAndGlyphs">0.1</text>
<line x1="198.50" y1="456.90" x2="201.10" y2="456.90" stroke="#444" stroke-width="0.75"/>
<text x="196.50" y="459.60" font-size="7.6" stroke="#1a1a1a" stroke-width="0.1" text-anchor="end" textLength="9.20" lengthAdjust="spacingAndGlyphs">0.0</text>
<line x1="198.50" y1="468.20" x2="201.10" y2="468.20" stroke="#444" stroke-width="0.75"/>
<text x="196.50" y="470.90" font-size="7.6" stroke="#1a1a1a" stroke-width="0.1" text-anchor="end" textLength="12.50" lengthAdjust="spacingAndGlyphs">−0.1</text>
<line x1="198.50" y1="479.50" x2="201.10" y2="479.50" stroke="#444" stroke-width="0.75"/>
<text x="196.50" y="482.20" font-size="7.6" stroke="#1a1a1a" stroke-width="0.1" text-anchor="end" textLength="12.50" lengthAdjust="spacingAndGlyphs">−0.2</text>
<line x1="198.50" y1="490.80" x2="201.10" y2="490.80" stroke="#444" stroke-width="0.75"/>
<text x="196.50" y="493.50" font-size="7.6" stroke="#1a1a1a" stroke-width="0.1" text-anchor="end" textLength="12.50" lengthAdjust="spacingAndGlyphs">−0.3</text>
<line x1="198.50" y1="530.53" x2="201.10" y2="530.53" stroke="#444" stroke-width="0.75"/>
<text x="196.50" y="533.23" font-size="7.6" stroke="#1a1a1a" stroke-width="0.1" text-anchor="end" textLength="6.60" lengthAdjust="spacingAndGlyphs">10</text>
<line x1="198.50" y1="542.20" x2="201.10" y2="542.20" stroke="#444" stroke-width="0.75"/>
<text x="196.50" y="544.90" font-size="7.6" stroke="#1a1a1a" stroke-width="0.1" text-anchor="end" textLength="3.40" lengthAdjust="spacingAndGlyphs">0</text>
<line x1="198.50" y1="553.87" x2="201.10" y2="553.87" stroke="#444" stroke-width="0.75"/>
<text x="196.50" y="556.57" font-size="7.6" stroke="#1a1a1a" stroke-width="0.1" text-anchor="end" textLength="11.10" lengthAdjust="spacingAndGlyphs">−10</text>
<line x1="198.50" y1="565.54" x2="201.10" y2="565.54" stroke="#444" stroke-width="0.75"/>
<text x="196.50" y="568.24" font-size="7.6" stroke="#1a1a1a" stroke-width="0.1" text-anchor="end" textLength="11.10" lengthAdjust="spacingAndGlyphs">−20</text>
<line x1="249.00" y1="569.10" x2="249.00" y2="571.70" stroke="#444" stroke-width="0.75"/>
<text x="249.00" y="578.50" font-size="7.6" stroke="#1a1a1a" stroke-width="0.1" text-anchor="middle" textLength="17.80" lengthAdjust="spacingAndGlyphs">10000</text>
<line x1="296.00" y1="569.10" x2="296.00" y2="571.70" stroke="#444" stroke-width="0.75"/>
<text x="296.00" y="578.50" font-size="7.6" stroke="#1a1a1a" stroke-width="0.1" text-anchor="middle" textLength="17.80" lengthAdjust="spacingAndGlyphs">20000</text>
<text x="272.00" y="588.30" font-size="8.2" stroke="#1a1a1a" stroke-width="0.12" text-anchor="middle" textLength="66.00" lengthAdjust="spacingAndGlyphs">Rank in ordered dataset</text>
<text x="180.50" y="470.60" font-size="7.8" stroke="#1a1a1a" stroke-width="0.12" text-anchor="middle" textLength="73.60" lengthAdjust="spacingAndGlyphs" transform="rotate(-90 180.50 470.60)">Running enrichment score</text>
<text x="182.30" y="548.25" font-size="7.8" stroke="#1a1a1a" stroke-width="0.12" text-anchor="middle" textLength="49.30" lengthAdjust="spacingAndGlyphs" transform="rotate(-90 182.30 548.25)">Ranked list metric</text>
<text x="201.70" y="433.70" font-size="7.0" stroke="#1a1a1a" stroke-width="0.03" textLength="124.80" lengthAdjust="spacingAndGlyphs">GOCC_Collagen_Containing_Extracellular_Matrix</text>
<line x1="401.00" y1="436.60" x2="401.00" y2="501.80" stroke="#efefef" stroke-width="0.7"/>
<line x1="401.00" y1="524.50" x2="401.00" y2="568.60" stroke="#efefef" stroke-width="0.7"/>
<line x1="424.40" y1="436.60" x2="424.40" y2="501.80" stroke="#efefef" stroke-width="0.7"/>
<line x1="424.40" y1="524.50" x2="424.40" y2="568.60" stroke="#efefef" stroke-width="0.7"/>
<line x1="447.80" y1="436.60" x2="447.80" y2="501.80" stroke="#efefef" stroke-width="0.7"/>
<line x1="447.80" y1="524.50" x2="447.80" y2="568.60" stroke="#efefef" stroke-width="0.7"/>
<line x1="471.20" y1="436.60" x2="471.20" y2="501.80" stroke="#efefef" stroke-width="0.7"/>
<line x1="471.20" y1="524.50" x2="471.20" y2="568.60" stroke="#efefef" stroke-width="0.7"/>
<line x1="494.60" y1="436.60" x2="494.60" y2="501.80" stroke="#efefef" stroke-width="0.7"/>
<line x1="494.60" y1="524.50" x2="494.60" y2="568.60" stroke="#efefef" stroke-width="0.7"/>
<rect x="444.00" y="438.70" width="58.00" height="6.00" fill="#d0d0d0"/>
<rect x="444.00" y="444.70" width="58.00" height="7.00" fill="#ececec"/>
<line x1="463.40" y1="438.70" x2="463.40" y2="451.70" stroke="#fff" stroke-width="0.8"/>
<line x1="481.20" y1="438.70" x2="481.20" y2="451.70" stroke="#fff" stroke-width="0.8"/>
<text x="453.70" y="443.40" font-size="7.0" text-anchor="middle" font-weight="bold" textLength="10.15" lengthAdjust="spacingAndGlyphs">NES</text>
<text x="472.30" y="443.40" font-size="7.0" text-anchor="middle" font-weight="bold" textLength="16.24" lengthAdjust="spacingAndGlyphs">pvalue</text>
<text x="491.60" y="443.40" font-size="7.0" text-anchor="middle" font-weight="bold" textLength="18.27" lengthAdjust="spacingAndGlyphs">p.adjust</text>
<text x="453.70" y="450.10" font-size="6.4" stroke="#1a1a1a" stroke-width="0.06" text-anchor="middle" textLength="18.20" lengthAdjust="spacingAndGlyphs">−1.3478</text>
<text x="472.30" y="450.10" font-size="6.4" stroke="#1a1a1a" stroke-width="0.06" text-anchor="middle" textLength="16.01" lengthAdjust="spacingAndGlyphs">0.0165</text>
<text x="491.60" y="450.10" font-size="6.4" stroke="#1a1a1a" stroke-width="0.06" text-anchor="middle" textLength="16.01" lengthAdjust="spacingAndGlyphs">0.0391</text>
<polyline points="376.50,454.26 377.16,450.33 378.10,445.95 378.77,444.40 379.51,443.25 380.30,442.71 380.94,442.15 381.61,442.56 382.31,443.08 383.00,443.07 383.71,443.12 384.43,442.56 385.14,442.56 385.80,442.37 386.59,442.68 387.30,442.97 388.00,442.76 388.68,442.55 389.34,442.08 390.00,441.91 390.66,441.44 391.32,440.76 392.00,440.65 392.73,439.73 393.49,439.34 394.20,438.71 394.81,438.70 395.38,439.43 396.00,439.35 396.71,439.47 397.49,439.92 398.30,439.99 398.91,439.80 399.53,440.24 400.21,440.20 401.00,440.59 401.57,440.67 402.14,441.42 402.75,441.73 403.44,442.34 404.25,442.80 405.20,443.00 405.70,443.26 406.25,443.39 406.84,443.60 407.45,443.79 408.09,444.14 408.76,444.53 409.43,444.47 410.12,445.06 410.81,445.16 411.50,445.41 412.18,445.95 412.85,446.08 413.50,446.31 414.12,446.70 414.72,447.10 415.30,447.06 415.87,447.81 416.44,447.62 417.01,448.29 417.59,448.67 418.20,448.62 418.83,449.40 419.50,449.64 420.21,450.25 420.98,450.52 421.80,451.17 422.29,451.63 422.81,452.44 423.34,452.50 423.89,453.24 424.45,453.82 425.03,454.33 425.62,454.55 426.22,455.09 426.84,455.72 427.46,456.41 428.09,456.65 428.72,457.55 429.36,458.16 430.01,458.78 430.65,458.96 431.30,460.00 431.94,460.17 432.58,460.88 433.22,461.60 433.85,462.33 434.48,462.61 435.09,463.46 435.70,463.82 436.31,464.25 436.93,464.81 437.55,465.31 438.18,465.84 438.82,466.45 439.47,467.31 440.11,468.05 440.76,468.22 441.40,468.75 442.04,469.81 442.68,470.16 443.32,470.68 443.94,471.17 444.56,471.91 445.17,472.58 445.77,472.93 446.35,473.45 446.92,473.78 447.48,474.71 448.01,474.75 448.53,475.44 449.03,476.05 449.50,476.12 450.34,477.16 451.11,477.94 451.81,478.39 452.45,479.02 453.05,479.19 453.61,479.84 454.16,480.15 454.70,480.93 455.24,481.08 455.79,481.59 456.38,482.30 457.00,482.68 457.61,483.17 458.23,483.34 458.87,483.78 459.52,484.32 460.18,484.60 460.83,484.92 461.48,485.37 462.12,485.62 462.74,486.11 463.35,486.77 463.93,487.10 464.48,487.26 465.00,487.50 465.77,487.86 466.46,488.12 467.09,488.54 467.69,489.10 468.26,489.43 468.82,489.47 469.40,489.99 470.00,490.34 470.62,490.69 471.25,491.09 471.88,491.57 472.50,491.81 473.12,492.42 473.75,492.63 474.38,493.13 475.00,493.63 475.62,493.92 476.25,494.02 476.88,494.63 477.50,494.74 478.12,494.96 478.75,494.93 479.38,495.46 480.00,495.58 480.64,496.07 481.30,496.27 481.96,496.76 482.62,496.98 483.27,497.35 483.89,497.39 484.47,497.78 485.00,498.02 485.74,498.29 486.39,498.20 486.97,498.53 487.50,498.58 488.00,498.49 488.74,498.63 489.37,498.50 490.00,497.91 490.67,497.11 491.33,495.86 492.00,495.27 492.67,494.74 493.33,494.06 494.00,493.60 494.69,492.71 495.37,491.69 496.00,490.64 496.72,490.55 497.50,490.44 498.07,490.52 498.72,490.50 499.39,490.74 500.00,490.94 500.70,491.02 501.35,491.23 502.00,491.06 502.69,491.41 503.37,491.84 504.00,491.98 504.78,491.15 505.50,490.29 506.22,488.77 507.00,486.77 507.67,485.89 508.39,484.67 509.00,483.48 509.56,482.14 510.00,480.31 510.53,476.78 511.00,472.65 511.29,468.24 511.50,463.98 511.68,459.04 511.80,455.30" fill="none" stroke="#00ff00" stroke-width="0.9" stroke-linejoin="round"/>
<rect x="376.70" y="502.30" width="1.40" height="15.20" fill="#333333"/>
<rect x="378.10" y="502.30" width="1.70" height="15.20" fill="#555555"/>
<rect x="381.90" y="502.30" width="1.80" height="15.20" fill="#888888"/>
<rect x="383.70" y="502.30" width="2.00" height="15.20" fill="#bbbbbb"/>
<rect x="385.70" y="502.30" width="1.10" height="15.20" fill="#555555"/>
<rect x="388.50" y="502.30" width="2.10" height="15.20" fill="#777777"/>
<rect x="390.60" y="502.30" width="2.40" height="15.20" fill="#666666"/>
<rect x="394.70" y="502.30" width="1.10" height="15.20" fill="#444444"/>
<rect x="397.20" y="502.30" width="1.70" height="15.20" fill="#888888"/>
<rect x="398.90" y="502.30" width="1.40" height="15.20" fill="#aaaaaa"/>
<rect x="400.30" y="502.30" width="3.10" height="15.20" fill="#cccccc"/>
<rect x="403.40" y="502.30" width="2.10" height="15.20" fill="#888888"/>
<rect x="405.50" y="502.30" width="2.00" height="15.20" fill="#666666"/>
<rect x="407.50" y="502.30" width="1.40" height="15.20" fill="#999999"/>
<rect x="408.90" y="502.30" width="1.50" height="15.20" fill="#999999"/>
<rect x="410.40" y="502.30" width="1.00" height="15.20" fill="#cccccc"/>
<rect x="411.40" y="502.30" width="3.80" height="15.20" fill="#505050"/>
<rect x="415.20" y="502.30" width="3.50" height="15.20" fill="#555555"/>
<rect x="418.70" y="502.30" width="1.40" height="15.20" fill="#dddddd"/>
<rect x="420.10" y="502.30" width="1.70" height="15.20" fill="#aaaaaa"/>
<rect x="421.80" y="502.30" width="1.10" height="15.20" fill="#444444"/>
<rect x="423.90" y="502.30" width="3.50" height="15.20" fill="#888888"/>
<rect x="429.40" y="502.30" width="1.80" height="15.20" fill="#777777"/>
<rect x="432.90" y="502.30" width="1.00" height="15.20" fill="#999999"/>
<rect x="437.70" y="502.30" width="1.40" height="15.20" fill="#666666"/>
<rect x="439.10" y="502.30" width="1.80" height="15.20" fill="#bbbbbb"/>
<rect x="441.90" y="502.30" width="1.70" height="15.20" fill="#999999"/>
<rect x="443.00" y="502.30" width="1.00" height="15.20" fill="#cccccc"/>
<rect x="446.10" y="502.30" width="1.10" height="15.20" fill="#cccccc"/>
<rect x="447.80" y="502.30" width="1.40" height="15.20" fill="#777777"/>
<rect x="451.00" y="502.30" width="1.30" height="15.20" fill="#cccccc"/>
<rect x="452.30" y="502.30" width="1.80" height="15.20" fill="#aaaaaa"/>
<rect x="455.80" y="502.30" width="1.10" height="15.20" fill="#999999"/>
<rect x="458.60" y="502.30" width="1.70" height="15.20" fill="#888888"/>
<rect x="460.30" y="502.30" width="2.80" height="15.20" fill="#666666"/>
<rect x="466.50" y="502.30" width="1.40" height="15.20" fill="#111111"/>
<rect x="467.90" y="502.30" width="1.80" height="15.20" fill="#555555"/>
<rect x="469.70" y="502.30" width="3.10" height="15.20" fill="#999999"/>
<rect x="472.80" y="502.30" width="2.70" height="15.20" fill="#888888"/>
<rect x="475.50" y="502.30" width="1.50" height="15.20" fill="#999999"/>
<rect x="477.00" y="502.30" width="3.50" height="15.20" fill="#808080"/>
<rect x="482.20" y="502.30" width="1.40" height="15.20" fill="#cccccc"/>
<rect x="485.00" y="502.30" width="2.40" height="15.20" fill="#888888"/>
<rect x="487.40" y="502.30" width="1.40" height="15.20" fill="#999999"/>
<rect x="488.80" y="502.30" width="1.40" height="15.20" fill="#dddddd"/>
<rect x="490.20" y="502.30" width="1.70" height="15.20" fill="#555555"/>
<rect x="491.90" y="502.30" width="1.70" height="15.20" fill="#111111"/>
<rect x="495.00" y="502.30" width="2.10" height="15.20" fill="#333333"/>
<rect x="498.50" y="502.30" width="1.40" height="15.20" fill="#cccccc"/>
<rect x="499.90" y="502.30" width="2.00" height="15.20" fill="#888888"/>
<rect x="503.30" y="502.30" width="1.40" height="15.20" fill="#aaaaaa"/>
<rect x="504.70" y="502.30" width="1.40" height="15.20" fill="#333333"/>
<rect x="506.10" y="502.30" width="1.40" height="15.20" fill="#aaaaaa"/>
<rect x="507.50" y="502.30" width="2.00" height="15.20" fill="#666666"/>
<rect x="509.50" y="502.30" width="2.20" height="15.20" fill="#111111"/>
<rect x="377.00" y="517.50" width="10.00" height="6.50" fill="#dc3027"/>
<rect x="387.00" y="517.50" width="13.00" height="6.50" fill="#ef5f47"/>
<rect x="400.00" y="517.50" width="19.00" height="6.50" fill="#f5a084"/>
<rect x="419.00" y="517.50" width="21.00" height="6.50" fill="#fcdacb"/>
<rect x="440.00" y="517.50" width="26.00" height="6.50" fill="#edf2fb"/>
<rect x="466.00" y="517.50" width="14.00" height="6.50" fill="#c1d8ec"/>
<rect x="480.00" y="517.50" width="16.00" height="6.50" fill="#6aaad9"/>
<rect x="496.00" y="517.50" width="15.90" height="6.50" fill="#3b84c4"/>
<path d="M376.70,542.10 L376.70,536.07 L377.04,536.42 L377.38,536.76 L377.71,537.11 L378.05,537.46 L378.39,537.55 L378.73,537.63 L379.07,537.72 L379.40,537.81 L379.74,537.89 L380.08,537.98 L380.42,538.07 L380.76,538.16 L381.09,538.24 L381.43,538.33 L381.77,538.42 L382.11,538.50 L382.45,538.59 L382.78,538.68 L383.12,538.76 L383.46,538.85 L383.80,538.89 L384.14,538.93 L384.47,538.97 L384.81,539.01 L385.15,539.06 L385.49,539.10 L385.83,539.14 L386.16,539.18 L386.50,539.22 L386.84,539.26 L387.18,539.30 L387.52,539.34 L387.85,539.38 L388.19,539.42 L388.53,539.46 L388.87,539.50 L389.21,539.54 L389.54,539.58 L389.88,539.62 L390.22,539.66 L390.56,539.69 L390.90,539.71 L391.23,539.74 L391.57,539.76 L391.91,539.79 L392.25,539.81 L392.59,539.84 L392.92,539.86 L393.26,539.89 L393.60,539.91 L393.94,539.94 L394.28,539.96 L394.61,539.99 L394.95,540.01 L395.29,540.04 L395.63,540.06 L395.97,540.09 L396.30,540.11 L396.64,540.14 L396.98,540.16 L397.32,540.19 L397.66,540.21 L397.99,540.24 L398.33,540.26 L398.67,540.29 L399.01,540.31 L399.35,540.34 L399.68,540.36 L400.02,540.38 L400.36,540.40 L400.70,540.41 L401.04,540.43 L401.37,540.45 L401.71,540.47 L402.05,540.49 L402.39,540.50 L402.73,540.52 L403.06,540.54 L403.40,540.56 L403.74,540.58 L404.08,540.60 L404.42,540.61 L404.75,540.63 L405.09,540.65 L405.43,540.67 L405.77,540.69 L406.11,540.70 L406.44,540.72 L406.78,540.74 L407.12,540.76 L407.46,540.78 L407.80,540.80 L408.13,540.81 L408.47,540.83 L408.81,540.85 L409.15,540.87 L409.49,540.89 L409.82,540.90 L410.16,540.92 L410.50,540.94 L410.84,540.95 L411.18,540.97 L411.51,540.98 L411.85,540.99 L412.19,541.01 L412.53,541.02 L412.87,541.03 L413.20,541.04 L413.54,541.06 L413.88,541.07 L414.22,541.08 L414.56,541.10 L414.89,541.11 L415.23,541.12 L415.57,541.14 L415.91,541.15 L416.25,541.16 L416.58,541.17 L416.92,541.19 L417.26,541.20 L417.60,541.21 L417.94,541.23 L418.27,541.24 L418.61,541.25 L418.95,541.27 L419.29,541.28 L419.63,541.29 L419.96,541.31 L420.30,541.32 L420.64,541.33 L420.98,541.34 L421.32,541.36 L421.65,541.37 L421.99,541.38 L422.33,541.40 L422.67,541.41 L423.01,541.42 L423.34,541.44 L423.68,541.45 L424.02,541.46 L424.36,541.47 L424.70,541.48 L425.03,541.49 L425.37,541.50 L425.71,541.51 L426.05,541.51 L426.39,541.52 L426.72,541.53 L427.06,541.54 L427.40,541.55 L427.74,541.56 L428.08,541.57 L428.41,541.58 L428.75,541.58 L429.09,541.59 L429.43,541.60 L429.77,541.61 L430.10,541.62 L430.44,541.63 L430.78,541.64 L431.12,541.64 L431.46,541.65 L431.79,541.66 L432.13,541.67 L432.47,541.68 L432.81,541.69 L433.15,541.70 L433.48,541.71 L433.82,541.71 L434.16,541.72 L434.50,541.73 L434.84,541.74 L435.17,541.75 L435.51,541.76 L435.85,541.77 L436.19,541.78 L436.53,541.78 L436.86,541.79 L437.20,541.80 L437.54,541.81 L437.88,541.82 L438.22,541.82 L438.55,541.83 L438.89,541.83 L439.23,541.84 L439.57,541.84 L439.91,541.85 L440.24,541.86 L440.58,541.86 L440.92,541.87 L441.26,541.87 L441.60,541.88 L441.93,541.89 L442.27,541.89 L442.61,541.90 L442.95,541.90 L443.29,541.91 L443.62,541.91 L443.96,541.92 L444.30,541.93 L444.64,541.93 L444.98,541.94 L445.31,541.94 L445.65,541.95 L445.99,541.96 L446.33,541.96 L446.67,541.97 L447.00,541.97 L447.34,541.98 L447.68,541.98 L448.02,541.99 L448.36,542.00 L448.69,542.00 L449.03,542.01 L449.37,542.01 L449.71,542.02 L450.05,542.02 L450.38,542.03 L450.72,542.04 L451.06,542.04 L451.40,542.04 L451.74,542.05 L452.07,542.05 L452.41,542.05 L452.75,542.05 L453.09,542.05 L453.43,542.06 L453.76,542.06 L454.10,542.06 L454.44,542.06 L454.78,542.06 L455.12,542.07 L455.45,542.07 L455.79,542.07 L456.13,542.07 L456.47,542.08 L456.81,542.08 L457.14,542.08 L457.48,542.08 L457.82,542.08 L458.16,542.09 L458.50,542.09 L458.83,542.09 L459.17,542.09 L459.51,542.09 L459.85,542.10 L460.19,542.10 L460.52,542.10 L460.86,542.12 L461.20,542.14 L461.54,542.17 L461.88,542.19 L462.21,542.21 L462.55,542.23 L462.89,542.25 L463.23,542.27 L463.57,542.30 L463.90,542.32 L464.24,542.34 L464.58,542.36 L464.92,542.38 L465.26,542.40 L465.59,542.43 L465.93,542.45 L466.27,542.47 L466.61,542.49 L466.95,542.51 L467.28,542.53 L467.62,542.56 L467.96,542.58 L468.30,542.60 L468.64,542.62 L468.97,542.64 L469.31,542.67 L469.65,542.69 L469.99,542.71 L470.33,542.73 L470.66,542.75 L471.00,542.77 L471.34,542.80 L471.68,542.83 L472.02,542.86 L472.35,542.89 L472.69,542.92 L473.03,542.96 L473.37,542.99 L473.71,543.02 L474.04,543.05 L474.38,543.08 L474.72,543.12 L475.06,543.15 L475.40,543.18 L475.73,543.21 L476.07,543.24 L476.41,543.27 L476.75,543.31 L477.09,543.34 L477.42,543.37 L477.76,543.40 L478.10,543.43 L478.44,543.47 L478.78,543.50 L479.11,543.53 L479.45,543.56 L479.79,543.59 L480.13,543.63 L480.47,543.66 L480.80,543.69 L481.14,543.72 L481.48,543.75 L481.82,543.78 L482.16,543.82 L482.49,543.85 L482.83,543.88 L483.17,543.91 L483.51,543.94 L483.85,543.98 L484.18,544.01 L484.52,544.04 L484.86,544.07 L485.20,544.11 L485.54,544.15 L485.87,544.19 L486.21,544.23 L486.55,544.27 L486.89,544.30 L487.23,544.34 L487.56,544.38 L487.90,544.42 L488.24,544.46 L488.58,544.50 L488.92,544.54 L489.25,544.57 L489.59,544.61 L489.93,544.65 L490.27,544.69 L490.61,544.73 L490.94,544.77 L491.28,544.81 L491.62,544.85 L491.96,544.88 L492.30,544.92 L492.63,544.96 L492.97,545.00 L493.31,545.04 L493.65,545.08 L493.99,545.12 L494.32,545.15 L494.66,545.19 L495.00,545.23 L495.34,545.27 L495.68,545.31 L496.01,545.34 L496.35,545.38 L496.69,545.42 L497.03,545.45 L497.37,545.49 L497.70,545.53 L498.04,545.56 L498.38,545.60 L498.72,545.64 L499.06,545.67 L499.39,545.71 L499.73,545.75 L500.07,545.79 L500.41,545.82 L500.75,545.86 L501.08,545.90 L501.42,545.93 L501.76,545.97 L502.10,546.01 L502.44,546.04 L502.77,546.09 L503.11,546.14 L503.45,546.19 L503.79,546.24 L504.13,546.29 L504.46,546.34 L504.80,546.39 L505.14,546.44 L505.48,546.49 L505.82,546.54 L506.15,546.59 L506.49,546.64 L506.83,546.69 L507.17,546.74 L507.51,546.95 L507.84,547.16 L508.18,547.37 L508.52,547.58 L508.86,547.78 L509.20,547.99 L509.53,548.20 L509.87,548.41 L510.21,548.62 L510.55,548.83 L510.89,550.15 L511.22,551.48 L511.56,554.67 L511.90,565.30 L511.90,542.10 Z" fill="#bebebe"/>
<line x1="376.30" y1="436.60" x2="376.30" y2="568.60" stroke="#555" stroke-width="1.3"/>
<line x1="375.60" y1="568.60" x2="511.90" y2="568.60" stroke="#262626" stroke-width="1.05"/>
<line x1="373.70" y1="443.00" x2="376.30" y2="443.00" stroke="#444" stroke-width="0.75"/>
<text x="371.70" y="445.70" font-size="7.6" stroke="#1a1a1a" stroke-width="0.1" text-anchor="end" textLength="9.00" lengthAdjust="spacingAndGlyphs">0.1</text>
<line x1="373.70" y1="454.60" x2="376.30" y2="454.60" stroke="#444" stroke-width="0.75"/>
<text x="371.70" y="457.30" font-size="7.6" stroke="#1a1a1a" stroke-width="0.1" text-anchor="end" textLength="9.20" lengthAdjust="spacingAndGlyphs">0.0</text>
<line x1="373.70" y1="466.20" x2="376.30" y2="466.20" stroke="#444" stroke-width="0.75"/>
<text x="371.70" y="468.90" font-size="7.6" stroke="#1a1a1a" stroke-width="0.1" text-anchor="end" textLength="12.50" lengthAdjust="spacingAndGlyphs">−0.1</text>
<line x1="373.70" y1="477.80" x2="376.30" y2="477.80" stroke="#444" stroke-width="0.75"/>
<text x="371.70" y="480.50" font-size="7.6" stroke="#1a1a1a" stroke-width="0.1" text-anchor="end" textLength="12.50" lengthAdjust="spacingAndGlyphs">−0.2</text>
<line x1="373.70" y1="489.40" x2="376.30" y2="489.40" stroke="#444" stroke-width="0.75"/>
<text x="371.70" y="492.10" font-size="7.6" stroke="#1a1a1a" stroke-width="0.1" text-anchor="end" textLength="12.50" lengthAdjust="spacingAndGlyphs">−0.3</text>
<line x1="373.70" y1="501.00" x2="376.30" y2="501.00" stroke="#444" stroke-width="0.75"/>
<text x="371.70" y="503.70" font-size="7.6" stroke="#1a1a1a" stroke-width="0.1" text-anchor="end" textLength="12.50" lengthAdjust="spacingAndGlyphs">−0.4</text>
<line x1="373.70" y1="530.50" x2="376.30" y2="530.50" stroke="#444" stroke-width="0.75"/>
<text x="371.70" y="533.20" font-size="7.6" stroke="#1a1a1a" stroke-width="0.1" text-anchor="end" textLength="6.60" lengthAdjust="spacingAndGlyphs">10</text>
<line x1="373.70" y1="542.10" x2="376.30" y2="542.10" stroke="#444" stroke-width="0.75"/>
<text x="371.70" y="544.80" font-size="7.6" stroke="#1a1a1a" stroke-width="0.1" text-anchor="end" textLength="3.40" lengthAdjust="spacingAndGlyphs">0</text>
<line x1="373.70" y1="553.70" x2="376.30" y2="553.70" stroke="#444" stroke-width="0.75"/>
<text x="371.70" y="556.40" font-size="7.6" stroke="#1a1a1a" stroke-width="0.1" text-anchor="end" textLength="11.10" lengthAdjust="spacingAndGlyphs">−10</text>
<line x1="373.70" y1="565.30" x2="376.30" y2="565.30" stroke="#444" stroke-width="0.75"/>
<text x="371.70" y="568.00" font-size="7.6" stroke="#1a1a1a" stroke-width="0.1" text-anchor="end" textLength="11.10" lengthAdjust="spacingAndGlyphs">−20</text>
<line x1="424.40" y1="568.60" x2="424.40" y2="571.20" stroke="#444" stroke-width="0.75"/>
<text x="424.40" y="578.20" font-size="7.6" stroke="#1a1a1a" stroke-width="0.1" text-anchor="middle" textLength="17.80" lengthAdjust="spacingAndGlyphs">10000</text>
<line x1="471.20" y1="568.60" x2="471.20" y2="571.20" stroke="#444" stroke-width="0.75"/>
<text x="471.20" y="578.20" font-size="7.6" stroke="#1a1a1a" stroke-width="0.1" text-anchor="middle" textLength="17.80" lengthAdjust="spacingAndGlyphs">20000</text>
<text x="447.00" y="587.80" font-size="8.2" stroke="#1a1a1a" stroke-width="0.12" text-anchor="middle" textLength="66.00" lengthAdjust="spacingAndGlyphs">Rank in ordered dataset</text>
<text x="355.70" y="472.35" font-size="7.8" stroke="#1a1a1a" stroke-width="0.12" text-anchor="middle" textLength="71.90" lengthAdjust="spacingAndGlyphs" transform="rotate(-90 355.70 472.35)">Running enrichment score</text>
<text x="357.50" y="548.25" font-size="7.8" stroke="#1a1a1a" stroke-width="0.12" text-anchor="middle" textLength="49.30" lengthAdjust="spacingAndGlyphs" transform="rotate(-90 357.50 548.25)">Ranked list metric</text>
<text x="376.10" y="433.40" font-size="7.0" stroke="#1a1a1a" stroke-width="0.03" textLength="71.80" lengthAdjust="spacingAndGlyphs">Hallmark_Kras_Signaling_Up</text>
<rect x="0.75" y="0.75" width="518.5" height="594.5" fill="none" stroke="#000" stroke-width="1.5"/>
</svg>
</body></html>
